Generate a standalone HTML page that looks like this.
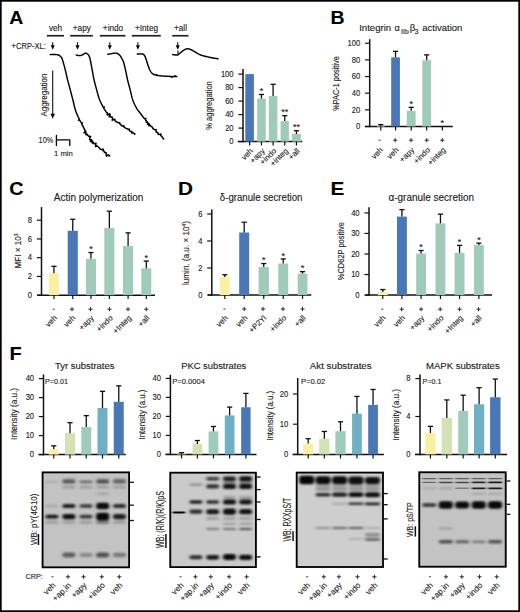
<!DOCTYPE html>
<html><head><meta charset="utf-8"><style>
html,body{margin:0;padding:0;background:#fff;}
body{width:520px;height:612px;overflow:hidden;position:relative;}
svg{position:absolute;left:0;top:0;font-family:"Liberation Sans", sans-serif;}
text{stroke:#1a1a1a;stroke-width:0.12px;}
</style></head><body>
<svg width="520" height="612" viewBox="0 0 520 612">
<defs><filter id="bl" x="-20%" y="-50%" width="140%" height="200%"><feGaussianBlur stdDeviation="1.5 1.0"/></filter><filter id="bls" x="-20%" y="-50%" width="140%" height="200%"><feGaussianBlur stdDeviation="1.1 0.55"/></filter></defs>
<rect x="0" y="0" width="520" height="612" fill="#fff"/>
<text x="0" y="0" font-size="18.5" text-anchor="start" font-weight="bold" fill="#000" transform="translate(9.2 24.2) scale(1.05 1)">A</text>
<text x="55.5" y="31" font-size="8.2" text-anchor="middle" font-weight="normal" fill="#1a1a1a">veh</text>
<rect x="46.90" y="34.90" width="17.10" height="1.70" fill="#222"/>
<line x1="52.70" y1="42.20" x2="52.70" y2="45.80" stroke="#111" stroke-width="1.1"/>
<path d="M50.7,45.3 L54.7,45.3 L52.7,49.8 Z" fill="#000"/>
<text x="81.8" y="31" font-size="8.2" text-anchor="middle" font-weight="normal" fill="#1a1a1a">+apy</text>
<rect x="70.20" y="34.90" width="22.60" height="1.70" fill="#222"/>
<line x1="77.50" y1="42.20" x2="77.50" y2="45.80" stroke="#111" stroke-width="1.1"/>
<path d="M75.5,45.3 L79.5,45.3 L77.5,49.8 Z" fill="#000"/>
<text x="113.0" y="31" font-size="8.2" text-anchor="middle" font-weight="normal" fill="#1a1a1a">+indo</text>
<rect x="99.80" y="34.90" width="25.70" height="1.70" fill="#222"/>
<line x1="109.80" y1="42.20" x2="109.80" y2="45.80" stroke="#111" stroke-width="1.1"/>
<path d="M107.8,45.3 L111.8,45.3 L109.8,49.8 Z" fill="#000"/>
<text x="146.5" y="31" font-size="8.2" text-anchor="middle" font-weight="normal" fill="#1a1a1a">+Integ</text>
<rect x="131.80" y="34.90" width="29.00" height="1.70" fill="#222"/>
<line x1="137.90" y1="42.20" x2="137.90" y2="45.80" stroke="#111" stroke-width="1.1"/>
<path d="M135.9,45.3 L139.9,45.3 L137.9,49.8 Z" fill="#000"/>
<text x="180.5" y="31" font-size="8.2" text-anchor="middle" font-weight="normal" fill="#1a1a1a">+all</text>
<rect x="172.20" y="34.90" width="16.30" height="1.70" fill="#222"/>
<line x1="177.70" y1="42.20" x2="177.70" y2="45.80" stroke="#111" stroke-width="1.1"/>
<path d="M175.7,45.3 L179.7,45.3 L177.7,49.8 Z" fill="#000"/>
<text x="11.6" y="48.5" font-size="8.2" text-anchor="start" font-weight="normal" fill="#1a1a1a" textLength="34.2" lengthAdjust="spacingAndGlyphs">+CRP-XL:</text>
<path d="M50.10,54.60 L50.52,54.60 L51.08,54.59 L51.76,54.59 L52.50,54.58 L53.29,54.57 L54.07,54.57 L54.80,54.57 L55.46,54.58 L56.00,54.60 L56.88,54.65 L57.49,54.71 L57.99,54.81 L58.50,55.00 L59.05,55.29 L59.56,55.65 L60.05,56.06 L60.50,56.50 L60.90,56.86 L61.25,57.19 L61.60,57.67 L62.00,58.50 L62.16,58.92 L62.34,59.40 L62.51,59.93 L62.70,60.51 L62.89,61.12 L63.08,61.76 L63.27,62.41 L63.46,63.07 L63.64,63.73 L63.82,64.37 L64.00,65.00 L64.16,65.56 L64.31,66.13 L64.46,66.69 L64.61,67.26 L64.76,67.83 L64.91,68.41 L65.06,68.99 L65.21,69.57 L65.35,70.17 L65.50,70.77 L65.65,71.38 L65.80,72.00 L65.94,72.58 L66.07,73.16 L66.20,73.74 L66.32,74.32 L66.45,74.91 L66.58,75.51 L66.71,76.12 L66.84,76.73 L66.98,77.36 L67.12,78.00 L67.27,78.65 L67.43,79.32 L67.60,80.00 L67.74,80.54 L67.88,81.08 L68.02,81.65 L68.18,82.22 L68.33,82.79 L68.49,83.38 L68.65,83.98 L68.82,84.57 L68.98,85.18 L69.15,85.78 L69.32,86.39 L69.49,87.00 L69.65,87.60 L69.82,88.21 L69.98,88.81 L70.14,89.41 L70.30,90.00 L70.46,90.59 L70.61,91.18 L70.77,91.76 L70.92,92.35 L71.08,92.94 L71.23,93.53 L71.38,94.12 L71.54,94.71 L71.69,95.29 L71.84,95.88 L71.99,96.47 L72.15,97.06 L72.30,97.65 L72.45,98.24 L72.60,98.82 L72.75,99.41 L72.90,100.00 L73.05,100.59 L73.19,101.19 L73.34,101.79 L73.48,102.40 L73.62,103.00 L73.76,103.61 L73.90,104.22 L74.04,104.82 L74.18,105.43 L74.32,106.02 L74.46,106.62 L74.61,107.21 L74.76,107.78 L74.91,108.35 L75.07,108.92 L75.23,109.46 L75.40,110.00 L75.61,110.64 L75.83,111.27 L76.06,111.88 L76.29,112.49 L76.53,113.09 L76.77,113.67 L77.01,114.25 L77.26,114.82 L77.50,115.37 L77.75,115.92 L77.99,116.45 L78.23,116.98 L78.47,117.49 L78.70,118.00 L78.99,118.62 L79.25,119.23 L78.50,120.32 L79.86,120.32 L80.07,120.89 L80.41,121.38 L80.71,121.89 L81.00,122.40 L81.39,122.86 L82.63,122.88 L81.59,124.11 L82.03,124.57 L82.20,125.17 L82.77,125.58 L82.84,126.23 L83.32,126.68 L83.35,127.34 L83.64,127.88 L84.21,128.28 L84.14,128.99 L84.66,129.40 L84.67,130.07 L84.84,130.72 L85.62,131.04 L83.92,132.74 L86.08,132.27 L85.70,133.24 L85.94,133.84 L85.82,134.66 L87.60,134.32 L87.42,135.15 L87.77,135.65 L88.62,135.86 L88.85,136.44 L90.19,136.23 L90.66,136.59 L89.75,137.95 L89.88,138.60 L89.56,139.65 L90.66,139.61 L91.65,139.71 L90.37,141.54 L92.08,140.84 L92.62,141.18 L91.91,142.68 L93.35,142.24 L93.00,143.47 L94.01,143.42 L94.88,143.51 L96.05,143.26 L95.39,144.83 L96.02,145.10 L95.52,146.56 L97.06,145.86 L97.43,146.38 L98.01,146.65 L98.43,147.10 L98.95,147.42 L99.35,147.88 L99.66,148.50 L100.13,148.95 L100.72,149.29 L101.36,149.61 L102.67,149.15 L103.33,149.22 L102.87,150.77 L103.75,150.70 L104.12,151.32 L104.28,152.25 L104.93,152.57 L105.99,152.39 L106.24,153.23 L106.12,154.52 L106.19,155.53 L106.52,156.15 L108.29,154.85 L108.85,155.03 L109.11,155.50 L109.20,156.07 L109.70,156.00" stroke="#000" stroke-width="1.45" fill="none" stroke-linejoin="round" stroke-linecap="round"/>
<path d="M76.20,55.00 L76.70,55.13 L77.41,55.33 L78.22,55.51 L79.00,55.60 L79.58,55.59 L80.17,55.55 L80.77,55.45 L81.38,55.31 L82.00,55.10 L82.54,54.83 L83.11,54.46 L83.68,54.06 L84.25,53.67 L84.79,53.37 L85.30,53.20 L86.00,53.20 L86.65,53.41 L87.25,53.76 L87.80,54.20 L88.20,54.61 L88.56,55.08 L88.89,55.64 L89.20,56.27 L89.50,57.00 L89.67,57.50 L89.83,58.03 L89.97,58.58 L90.11,59.17 L90.25,59.81 L90.39,60.49 L90.54,61.22 L90.70,62.00 L90.80,62.51 L90.91,63.05 L91.02,63.60 L91.13,64.17 L91.24,64.77 L91.35,65.38 L91.46,66.00 L91.58,66.64 L91.70,67.29 L91.82,67.96 L91.94,68.63 L92.07,69.31 L92.20,70.00 L92.31,70.57 L92.41,71.15 L92.52,71.75 L92.63,72.36 L92.74,72.98 L92.85,73.60 L92.97,74.24 L93.08,74.88 L93.20,75.52 L93.32,76.16 L93.44,76.81 L93.57,77.45 L93.69,78.10 L93.83,78.74 L93.96,79.37 L94.10,80.00 L94.23,80.59 L94.37,81.18 L94.51,81.76 L94.66,82.35 L94.80,82.94 L94.95,83.53 L95.10,84.12 L95.25,84.71 L95.41,85.29 L95.57,85.88 L95.72,86.47 L95.88,87.06 L96.05,87.65 L96.21,88.24 L96.37,88.82 L96.54,89.41 L96.70,90.00 L96.86,90.59 L97.02,91.18 L97.18,91.76 L97.33,92.35 L97.49,92.94 L97.64,93.53 L97.80,94.12 L97.96,94.71 L98.12,95.29 L98.29,95.88 L98.46,96.47 L98.64,97.06 L98.83,97.65 L99.03,98.24 L99.24,98.82 L99.47,99.41 L99.70,100.00 L99.94,100.56 L100.18,101.14 L100.45,101.72 L100.72,102.31 L101.00,102.90 L101.29,103.50 L101.59,104.10 L101.89,104.69 L102.20,105.28 L102.49,105.88 L102.81,106.44 L103.09,107.02 L104.29,107.06 L103.76,108.07 L103.98,108.63 L104.27,109.13 L104.65,109.54 L104.85,110.03 L105.40,110.63 L105.74,111.31 L106.10,111.92 L106.56,112.41 L107.20,112.70 L107.30,113.44 L107.11,114.44 L107.41,114.99 L109.65,113.66 L109.04,115.09 L110.31,114.73 L109.12,116.70 L110.30,116.35 L110.74,116.68 L111.00,117.17 L111.63,117.27 L112.49,117.13 L112.44,118.02 L112.67,118.67 L112.15,120.33 L113.70,119.59 L114.97,119.28 L114.84,120.25 L115.08,120.80 L115.58,121.04 L115.97,121.46 L116.60,121.59 L117.05,122.01 L117.39,122.59 L118.18,122.57 L118.79,122.83 L119.75,122.61 L119.78,123.69 L120.28,124.14 L120.60,124.84 L121.42,124.85 L121.64,125.71 L122.29,125.95 L122.90,126.26 L123.99,125.85 L123.90,127.15 L124.47,127.40 L125.06,127.68 L125.55,128.14 L126.25,128.33 L126.91,128.61 L127.49,129.02 L128.06,129.49 L129.26,128.96 L129.36,130.15 L129.70,130.96 L130.39,131.19 L131.16,131.27 L131.71,131.66 L131.57,133.09 L132.74,132.39 L133.12,132.88 L133.58,133.18 L133.92,133.58 L134.36,133.73 L134.53,134.20 L135.00,134.10" stroke="#000" stroke-width="1.45" fill="none" stroke-linejoin="round" stroke-linecap="round"/>
<path d="M107.90,54.30 L108.30,54.22 L108.85,54.12 L109.49,53.99 L110.20,53.85 L110.94,53.72 L111.65,53.60 L112.30,53.50 L113.01,53.40 L113.73,53.29 L114.43,53.19 L115.12,53.13 L115.78,53.12 L116.40,53.20 L117.10,53.41 L117.76,53.71 L118.39,54.09 L118.97,54.53 L119.50,55.00 L119.90,55.42 L120.25,55.87 L120.57,56.36 L120.87,56.88 L121.18,57.43 L121.50,58.00 L121.79,58.48 L122.07,58.95 L122.36,59.43 L122.64,59.95 L122.93,60.54 L123.21,61.21 L123.50,62.00 L123.65,62.48 L123.81,62.99 L123.96,63.53 L124.11,64.10 L124.26,64.69 L124.42,65.31 L124.57,65.94 L124.72,66.60 L124.88,67.26 L125.03,67.94 L125.19,68.62 L125.34,69.31 L125.50,70.00 L125.62,70.54 L125.74,71.08 L125.86,71.65 L125.98,72.22 L126.10,72.79 L126.21,73.38 L126.33,73.98 L126.45,74.57 L126.57,75.18 L126.69,75.78 L126.82,76.39 L126.94,77.00 L127.07,77.60 L127.20,78.21 L127.33,78.81 L127.46,79.41 L127.60,80.00 L127.74,80.59 L127.88,81.18 L128.03,81.76 L128.18,82.35 L128.33,82.94 L128.48,83.53 L128.63,84.12 L128.79,84.71 L128.95,85.29 L129.10,85.88 L129.26,86.47 L129.42,87.06 L129.58,87.65 L129.73,88.24 L129.89,88.82 L130.05,89.41 L130.20,90.00 L130.35,90.59 L130.50,91.19 L130.64,91.79 L130.79,92.40 L130.93,93.00 L131.07,93.61 L131.22,94.22 L131.36,94.82 L131.50,95.43 L131.65,96.02 L131.80,96.62 L131.95,97.21 L132.11,97.78 L132.28,98.35 L132.44,98.92 L132.62,99.46 L132.80,100.00 L133.03,100.64 L133.26,101.26 L133.49,101.86 L133.74,102.46 L133.98,103.05 L134.24,103.62 L134.49,104.19 L134.76,104.75 L135.03,105.30 L135.31,105.85 L135.59,106.39 L135.89,106.93 L136.19,107.46 L136.50,108.00 L136.82,108.53 L137.17,109.05 L137.50,109.57 L137.83,110.10 L138.22,110.58 L138.56,111.11 L138.94,111.60 L139.35,112.07 L139.75,112.54 L140.12,113.04 L140.53,113.50 L140.87,114.01 L141.32,114.44 L141.52,115.06 L141.97,115.49 L142.29,116.01 L142.56,116.58 L143.17,116.87 L143.51,117.38 L143.83,117.91 L144.22,118.37 L144.73,118.73 L146.00,118.44 L145.36,119.78 L145.70,120.27 L146.20,120.63 L146.49,121.16 L146.17,122.21 L147.49,121.91 L147.84,122.44 L147.96,123.16 L147.47,124.39 L149.15,123.76 L149.30,124.45 L148.63,125.85 L150.34,125.16 L150.50,125.84 L150.93,126.27 L151.55,126.53 L152.07,126.88 L152.37,127.43 L152.80,127.87 L152.90,128.63 L153.34,129.05 L154.06,129.18 L154.66,129.42 L155.02,129.92 L156.17,129.58 L156.02,130.62 L156.29,131.22 L156.22,132.18 L156.91,132.35 L157.64,132.48 L157.89,133.11 L158.44,133.48 L158.26,134.63 L159.53,134.37 L160.98,133.99 L160.56,135.43 L161.14,135.90 L161.75,136.31 L162.18,136.85 L162.39,137.55 L162.77,138.02 L163.31,138.23 L163.25,138.92 L163.80,138.90" stroke="#000" stroke-width="1.45" fill="none" stroke-linejoin="round" stroke-linecap="round"/>
<path d="M137.30,54.00 L137.72,53.99 L138.31,53.96 L139.01,53.93 L139.78,53.91 L140.56,53.89 L141.30,53.89 L141.97,53.93 L142.50,54.00 L143.24,54.22 L143.73,54.53 L144.11,54.95 L144.50,55.50 L144.77,55.92 L145.01,56.38 L145.23,56.89 L145.46,57.49 L145.71,58.18 L146.00,59.00 L146.16,59.48 L146.34,60.01 L146.52,60.59 L146.71,61.21 L146.91,61.85 L147.11,62.51 L147.31,63.17 L147.51,63.83 L147.71,64.47 L147.91,65.08 L148.11,65.67 L148.30,66.20 L148.55,66.86 L148.79,67.50 L149.03,68.11 L149.27,68.69 L149.51,69.25 L149.75,69.78 L149.99,70.28 L150.25,70.75 L150.52,71.19 L150.88,71.81 L151.25,72.35 L151.63,72.82 L151.99,73.29 L152.45,73.68 L153.01,73.98 L153.47,74.26 L153.89,74.56 L154.43,74.61 L154.92,74.89 L155.52,75.16 L156.44,74.49 L157.19,75.48 L157.65,75.53 L158.16,75.55 L158.69,75.60 L159.26,75.65 L159.85,75.77 L160.46,75.81 L161.10,75.87 L161.75,75.95 L162.41,75.99 L163.07,76.10 L163.74,76.15 L164.43,76.04 L165.07,76.31 L165.73,76.28 L166.37,76.35 L167.00,76.31 L167.63,76.31 L168.29,76.37 L168.98,76.32 L169.68,76.43 L170.39,76.44 L171.11,76.38 L171.80,77.28 L172.51,76.45 L173.19,76.53 L173.84,76.55 L174.46,76.52 L175.05,75.65 L175.57,76.57 L176.04,76.51 L176.46,76.50 L176.80,76.50" stroke="#000" stroke-width="1.45" fill="none" stroke-linejoin="round" stroke-linecap="round"/>
<path d="M172.60,54.60 L173.05,54.65 L173.70,54.73 L174.46,54.83 L175.23,54.91 L175.94,54.98 L176.50,55.00 L177.31,54.97 L178.00,54.60 L178.41,54.33 L178.89,53.97 L179.41,53.57 L179.94,53.14 L180.48,52.71 L181.00,52.30 L181.50,51.90 L182.00,51.49 L182.50,51.08 L183.00,50.69 L183.50,50.32 L184.00,50.00 L184.59,49.66 L185.18,49.35 L185.76,49.09 L186.37,48.90 L187.00,48.80 L187.67,48.80 L188.37,48.90 L189.09,49.06 L189.80,49.27 L190.50,49.50 L191.02,49.70 L191.48,49.91 L191.93,50.16 L192.43,50.44 L193.04,50.78 L193.80,51.20 L194.21,51.43 L194.65,51.68 L195.12,51.96 L195.61,52.26 L196.12,52.57 L196.66,52.89 L197.21,53.22 L197.78,53.54 L198.36,53.87 L198.96,54.18 L199.56,54.47 L200.18,54.75 L200.80,55.00 L201.35,55.20 L201.93,55.40 L202.52,55.59 L203.13,55.77 L203.75,55.94 L204.38,56.11 L205.02,56.27 L205.66,56.43 L206.30,56.58 L206.94,56.73 L207.58,56.87 L208.20,57.01 L208.82,57.14 L209.42,57.27 L210.00,57.40 L210.68,57.54 L211.38,57.68 L212.09,57.82 L212.81,57.95 L213.53,58.08 L214.23,58.19 L214.91,58.30 L215.56,58.41 L216.17,58.51 L216.72,58.59 L217.22,58.67 L217.65,58.74 L218.00,58.80" stroke="#000" stroke-width="1.45" fill="none" stroke-linejoin="round" stroke-linecap="round"/>
<line x1="178.00" y1="55.50" x2="178.00" y2="50.50" stroke="#111" stroke-width="1.1"/>
<text x="47.1" y="95.0" font-size="9.6" text-anchor="middle" font-weight="normal" fill="#1a1a1a" transform="rotate(-90 47.1 95.0)" textLength="43.0" lengthAdjust="spacingAndGlyphs">Aggregation</text>
<line x1="52.70" y1="70.50" x2="52.70" y2="114.30" stroke="#111" stroke-width="1.1"/>
<path d="M50.5,113.8 L54.900000000000006,113.8 L52.7,118.8 Z" fill="#000"/>
<text x="53.2" y="143.1" font-size="8.3" text-anchor="end" font-weight="normal" fill="#1a1a1a" textLength="14.6" lengthAdjust="spacingAndGlyphs">10%</text>
<path d="M56.4,135.4 L56.4,145.4 M56.4,139.9 L69.8,139.9 L69.8,145.4" stroke="#000" stroke-width="1.3" fill="none" stroke-linejoin="round" stroke-linecap="round"/>
<text x="63.4" y="155.8" font-size="7.6" text-anchor="middle" font-weight="normal" fill="#1a1a1a" textLength="18.8" lengthAdjust="spacingAndGlyphs">1 min</text>
<line x1="243.00" y1="69.00" x2="243.00" y2="142.35" stroke="#111" stroke-width="1.5"/>
<line x1="237.80" y1="141.60" x2="302.20" y2="141.60" stroke="#111" stroke-width="1.5"/>
<line x1="238.40" y1="141.60" x2="243.00" y2="141.60" stroke="#111" stroke-width="1.2"/>
<text x="0" y="0" font-size="8.2" text-anchor="end" font-weight="normal" fill="#1a1a1a" transform="translate(233.6 144.35) scale(0.93 1)">0</text>
<line x1="238.40" y1="128.10" x2="243.00" y2="128.10" stroke="#111" stroke-width="1.2"/>
<text x="0" y="0" font-size="8.2" text-anchor="end" font-weight="normal" fill="#1a1a1a" transform="translate(233.6 130.85) scale(0.93 1)">20</text>
<line x1="238.40" y1="114.60" x2="243.00" y2="114.60" stroke="#111" stroke-width="1.2"/>
<text x="0" y="0" font-size="8.2" text-anchor="end" font-weight="normal" fill="#1a1a1a" transform="translate(233.6 117.35) scale(0.93 1)">40</text>
<line x1="238.40" y1="101.10" x2="243.00" y2="101.10" stroke="#111" stroke-width="1.2"/>
<text x="0" y="0" font-size="8.2" text-anchor="end" font-weight="normal" fill="#1a1a1a" transform="translate(233.6 103.85) scale(0.93 1)">60</text>
<line x1="238.40" y1="87.60" x2="243.00" y2="87.60" stroke="#111" stroke-width="1.2"/>
<text x="0" y="0" font-size="8.2" text-anchor="end" font-weight="normal" fill="#1a1a1a" transform="translate(233.6 90.35) scale(0.93 1)">80</text>
<line x1="238.40" y1="74.10" x2="243.00" y2="74.10" stroke="#111" stroke-width="1.2"/>
<text x="0" y="0" font-size="8.2" text-anchor="end" font-weight="normal" fill="#1a1a1a" transform="translate(233.6 76.85) scale(0.93 1)">100</text>
<rect x="245.30" y="74.10" width="8.60" height="67.50" fill="#4a77b5"/>
<line x1="249.60" y1="141.60" x2="249.60" y2="145.50" stroke="#111" stroke-width="1.2"/>
<rect x="257.10" y="98.74" width="8.70" height="42.86" fill="#a0cbb9"/>
<line x1="261.45" y1="98.74" x2="261.45" y2="94.48" stroke="#111" stroke-width="1.3"/>
<line x1="258.85" y1="94.48" x2="264.05" y2="94.48" stroke="#111" stroke-width="1.3"/>
<text x="261.45000000000005" y="94.08499999999998" font-size="9" text-anchor="middle" font-weight="normal" fill="#1a1a1a">*</text>
<line x1="261.45" y1="141.60" x2="261.45" y2="145.50" stroke="#111" stroke-width="1.2"/>
<rect x="268.80" y="96.04" width="8.60" height="45.56" fill="#a0cbb9"/>
<line x1="273.10" y1="96.04" x2="273.10" y2="84.29" stroke="#111" stroke-width="1.3"/>
<line x1="270.50" y1="84.29" x2="275.70" y2="84.29" stroke="#111" stroke-width="1.3"/>
<line x1="273.10" y1="141.60" x2="273.10" y2="145.50" stroke="#111" stroke-width="1.2"/>
<rect x="280.60" y="121.08" width="8.30" height="20.52" fill="#a0cbb9"/>
<line x1="284.75" y1="121.08" x2="284.75" y2="115.68" stroke="#111" stroke-width="1.3"/>
<line x1="282.15" y1="115.68" x2="287.35" y2="115.68" stroke="#111" stroke-width="1.3"/>
<text x="284.75" y="115.27999999999999" font-size="9" text-anchor="middle" font-weight="normal" fill="#1a1a1a">**</text>
<line x1="284.75" y1="141.60" x2="284.75" y2="145.50" stroke="#111" stroke-width="1.2"/>
<rect x="292.10" y="133.97" width="8.70" height="7.63" fill="#a0cbb9"/>
<line x1="296.45" y1="133.97" x2="296.45" y2="130.73" stroke="#111" stroke-width="1.3"/>
<line x1="293.85" y1="130.73" x2="299.05" y2="130.73" stroke="#111" stroke-width="1.3"/>
<text x="296.45000000000005" y="130.33249999999998" font-size="9" text-anchor="middle" font-weight="normal" fill="#1a1a1a">**</text>
<line x1="296.45" y1="141.60" x2="296.45" y2="145.50" stroke="#111" stroke-width="1.2"/>
<text x="212.0" y="105.5" font-size="8.8" text-anchor="middle" font-weight="normal" fill="#1a1a1a" transform="rotate(-90 212.0 105.5)" textLength="48.5" lengthAdjust="spacingAndGlyphs">% aggregation</text>
<text x="253.4" y="151.5" font-size="7.9" text-anchor="end" font-weight="normal" fill="#1a1a1a" transform="rotate(-45 253.4 151.5)">veh</text>
<text x="265.25" y="151.5" font-size="7.9" text-anchor="end" font-weight="normal" fill="#1a1a1a" transform="rotate(-45 265.25 151.5)">+apy</text>
<text x="276.9" y="151.5" font-size="7.9" text-anchor="end" font-weight="normal" fill="#1a1a1a" transform="rotate(-45 276.9 151.5)">+indo</text>
<text x="288.55" y="151.5" font-size="7.9" text-anchor="end" font-weight="normal" fill="#1a1a1a" transform="rotate(-45 288.55 151.5)">+integ</text>
<text x="300.25" y="151.5" font-size="7.9" text-anchor="end" font-weight="normal" fill="#1a1a1a" transform="rotate(-45 300.25 151.5)">+all</text>
<text x="0" y="0" font-size="18.8" text-anchor="start" font-weight="bold" fill="#000" transform="translate(330.4 24.3) scale(1.04 1)">B</text>
<text x="359.2" y="31.3" font-size="9.6" text-anchor="start" font-weight="normal" fill="#1a1a1a">Integrin </text>
<text x="394.6" y="31.3" font-size="9.2" text-anchor="start" font-weight="normal" fill="#1a1a1a">&#945;</text>
<text x="401.0" y="34.4" font-size="7.2" text-anchor="start" font-weight="bold" fill="#6a6a6a" textLength="8" lengthAdjust="spacingAndGlyphs">IIb</text>
<text x="409.8" y="31.3" font-size="9.6" text-anchor="start" font-weight="normal" fill="#1a1a1a">&#946;</text>
<text x="414.6" y="34.4" font-size="7" text-anchor="start" font-weight="normal" fill="#1a1a1a">3</text>
<text x="422.3" y="31.3" font-size="9.2" text-anchor="start" font-weight="normal" fill="#1a1a1a" textLength="40" lengthAdjust="spacingAndGlyphs">activation</text>
<line x1="369.70" y1="39.20" x2="369.70" y2="127.25" stroke="#111" stroke-width="1.5"/>
<line x1="364.80" y1="126.50" x2="452.70" y2="126.50" stroke="#111" stroke-width="1.5"/>
<line x1="365.10" y1="126.50" x2="369.70" y2="126.50" stroke="#111" stroke-width="1.2"/>
<text x="0" y="0" font-size="8.2" text-anchor="end" font-weight="normal" fill="#1a1a1a" transform="translate(360.29999999999995 129.25) scale(0.93 1)">0</text>
<line x1="365.10" y1="109.84" x2="369.70" y2="109.84" stroke="#111" stroke-width="1.2"/>
<text x="0" y="0" font-size="8.2" text-anchor="end" font-weight="normal" fill="#1a1a1a" transform="translate(360.29999999999995 112.59) scale(0.93 1)">20</text>
<line x1="365.10" y1="93.18" x2="369.70" y2="93.18" stroke="#111" stroke-width="1.2"/>
<text x="0" y="0" font-size="8.2" text-anchor="end" font-weight="normal" fill="#1a1a1a" transform="translate(360.29999999999995 95.93) scale(0.93 1)">40</text>
<line x1="365.10" y1="76.52" x2="369.70" y2="76.52" stroke="#111" stroke-width="1.2"/>
<text x="0" y="0" font-size="8.2" text-anchor="end" font-weight="normal" fill="#1a1a1a" transform="translate(360.29999999999995 79.27000000000001) scale(0.93 1)">60</text>
<line x1="365.10" y1="59.86" x2="369.70" y2="59.86" stroke="#111" stroke-width="1.2"/>
<text x="0" y="0" font-size="8.2" text-anchor="end" font-weight="normal" fill="#1a1a1a" transform="translate(360.29999999999995 62.61) scale(0.93 1)">80</text>
<line x1="365.10" y1="43.20" x2="369.70" y2="43.20" stroke="#111" stroke-width="1.2"/>
<text x="0" y="0" font-size="8.2" text-anchor="end" font-weight="normal" fill="#1a1a1a" transform="translate(360.29999999999995 45.95) scale(0.93 1)">100</text>
<rect x="376.80" y="126.00" width="7.90" height="0.50" fill="#fbefa2"/>
<line x1="380.75" y1="126.00" x2="380.75" y2="124.58" stroke="#111" stroke-width="1.3"/>
<line x1="378.15" y1="124.58" x2="383.35" y2="124.58" stroke="#111" stroke-width="1.3"/>
<line x1="380.75" y1="126.50" x2="380.75" y2="130.40" stroke="#111" stroke-width="1.2"/>
<rect x="391.20" y="57.36" width="8.70" height="69.14" fill="#4a77b5"/>
<line x1="395.55" y1="57.36" x2="395.55" y2="51.36" stroke="#111" stroke-width="1.3"/>
<line x1="392.95" y1="51.36" x2="398.15" y2="51.36" stroke="#111" stroke-width="1.3"/>
<line x1="395.55" y1="126.50" x2="395.55" y2="130.40" stroke="#111" stroke-width="1.2"/>
<rect x="406.80" y="110.84" width="8.80" height="15.66" fill="#a0cbb9"/>
<line x1="411.20" y1="110.84" x2="411.20" y2="107.34" stroke="#111" stroke-width="1.3"/>
<line x1="408.60" y1="107.34" x2="413.80" y2="107.34" stroke="#111" stroke-width="1.3"/>
<text x="411.20000000000005" y="106.941" font-size="9" text-anchor="middle" font-weight="normal" fill="#1a1a1a">*</text>
<line x1="411.20" y1="126.50" x2="411.20" y2="130.40" stroke="#111" stroke-width="1.2"/>
<rect x="422.30" y="60.28" width="8.80" height="66.22" fill="#a0cbb9"/>
<line x1="426.70" y1="60.28" x2="426.70" y2="54.86" stroke="#111" stroke-width="1.3"/>
<line x1="424.10" y1="54.86" x2="429.30" y2="54.86" stroke="#111" stroke-width="1.3"/>
<line x1="426.70" y1="126.50" x2="426.70" y2="130.40" stroke="#111" stroke-width="1.2"/>
<text x="442.35" y="126.1" font-size="9" text-anchor="middle" font-weight="normal" fill="#1a1a1a">*</text>
<line x1="442.35" y1="126.50" x2="442.35" y2="130.40" stroke="#111" stroke-width="1.2"/>
<text x="339.2" y="83.5" font-size="9.0" text-anchor="middle" font-weight="normal" fill="#1a1a1a" transform="rotate(-90 339.2 83.5)" textLength="54.5" lengthAdjust="spacingAndGlyphs">%PAC-1 positive</text>
<line x1="378.50" y1="140.20" x2="380.70" y2="140.20" stroke="#333" stroke-width="0.9"/>
<line x1="393.10" y1="140.20" x2="397.30" y2="140.20" stroke="#222" stroke-width="0.95"/>
<line x1="395.20" y1="138.10" x2="395.20" y2="142.30" stroke="#222" stroke-width="0.95"/>
<line x1="408.90" y1="140.20" x2="413.10" y2="140.20" stroke="#222" stroke-width="0.95"/>
<line x1="411.00" y1="138.10" x2="411.00" y2="142.30" stroke="#222" stroke-width="0.95"/>
<line x1="424.60" y1="140.20" x2="428.80" y2="140.20" stroke="#222" stroke-width="0.95"/>
<line x1="426.70" y1="138.10" x2="426.70" y2="142.30" stroke="#222" stroke-width="0.95"/>
<line x1="440.20" y1="140.20" x2="444.40" y2="140.20" stroke="#222" stroke-width="0.95"/>
<line x1="442.30" y1="138.10" x2="442.30" y2="142.30" stroke="#222" stroke-width="0.95"/>
<text x="383.4" y="150.5" font-size="7.9" text-anchor="end" font-weight="normal" fill="#1a1a1a" transform="rotate(-45 383.4 150.5)">veh</text>
<text x="399.0" y="150.5" font-size="7.9" text-anchor="end" font-weight="normal" fill="#1a1a1a" transform="rotate(-45 399.0 150.5)">veh</text>
<text x="414.8" y="150.5" font-size="7.9" text-anchor="end" font-weight="normal" fill="#1a1a1a" transform="rotate(-45 414.8 150.5)">+apy</text>
<text x="430.5" y="150.5" font-size="7.9" text-anchor="end" font-weight="normal" fill="#1a1a1a" transform="rotate(-45 430.5 150.5)">+indo</text>
<text x="446.1" y="150.5" font-size="7.9" text-anchor="end" font-weight="normal" fill="#1a1a1a" transform="rotate(-45 446.1 150.5)">+integ</text>
<text x="0" y="0" font-size="19" text-anchor="start" font-weight="bold" fill="#000" transform="translate(9.3 194.8) scale(1.04 1)">C</text>
<text x="53.8" y="201.0" font-size="10" text-anchor="start" font-weight="normal" fill="#1a1a1a" textLength="89.5" lengthAdjust="spacingAndGlyphs">Actin polymerization</text>
<line x1="41.50" y1="207.10" x2="41.50" y2="295.95" stroke="#111" stroke-width="1.5"/>
<line x1="37.50" y1="295.20" x2="155.00" y2="295.20" stroke="#111" stroke-width="1.5"/>
<line x1="36.90" y1="295.20" x2="41.50" y2="295.20" stroke="#111" stroke-width="1.2"/>
<text x="0" y="0" font-size="8.2" text-anchor="end" font-weight="normal" fill="#1a1a1a" transform="translate(32.1 297.95) scale(0.93 1)">0</text>
<line x1="36.90" y1="276.45" x2="41.50" y2="276.45" stroke="#111" stroke-width="1.2"/>
<text x="0" y="0" font-size="8.2" text-anchor="end" font-weight="normal" fill="#1a1a1a" transform="translate(32.1 279.2) scale(0.93 1)">2</text>
<line x1="36.90" y1="257.70" x2="41.50" y2="257.70" stroke="#111" stroke-width="1.2"/>
<text x="0" y="0" font-size="8.2" text-anchor="end" font-weight="normal" fill="#1a1a1a" transform="translate(32.1 260.45) scale(0.93 1)">4</text>
<line x1="36.90" y1="238.95" x2="41.50" y2="238.95" stroke="#111" stroke-width="1.2"/>
<text x="0" y="0" font-size="8.2" text-anchor="end" font-weight="normal" fill="#1a1a1a" transform="translate(32.1 241.7) scale(0.93 1)">6</text>
<line x1="36.90" y1="220.20" x2="41.50" y2="220.20" stroke="#111" stroke-width="1.2"/>
<text x="0" y="0" font-size="8.2" text-anchor="end" font-weight="normal" fill="#1a1a1a" transform="translate(32.1 222.95) scale(0.93 1)">8</text>
<rect x="48.90" y="273.26" width="10.10" height="21.94" fill="#fbefa2"/>
<line x1="53.95" y1="273.26" x2="53.95" y2="266.32" stroke="#111" stroke-width="1.3"/>
<line x1="51.35" y1="266.32" x2="56.55" y2="266.32" stroke="#111" stroke-width="1.3"/>
<line x1="53.95" y1="295.20" x2="53.95" y2="299.10" stroke="#111" stroke-width="1.2"/>
<rect x="67.70" y="230.79" width="10.10" height="64.41" fill="#4a77b5"/>
<line x1="72.75" y1="230.79" x2="72.75" y2="219.26" stroke="#111" stroke-width="1.3"/>
<line x1="70.15" y1="219.26" x2="75.35" y2="219.26" stroke="#111" stroke-width="1.3"/>
<line x1="72.75" y1="295.20" x2="72.75" y2="299.10" stroke="#111" stroke-width="1.2"/>
<rect x="85.90" y="258.82" width="10.10" height="36.38" fill="#a0cbb9"/>
<line x1="90.95" y1="258.82" x2="90.95" y2="252.54" stroke="#111" stroke-width="1.3"/>
<line x1="88.35" y1="252.54" x2="93.55" y2="252.54" stroke="#111" stroke-width="1.3"/>
<text x="90.95" y="252.14374999999998" font-size="9" text-anchor="middle" font-weight="normal" fill="#1a1a1a">*</text>
<line x1="90.95" y1="295.20" x2="90.95" y2="299.10" stroke="#111" stroke-width="1.2"/>
<rect x="104.30" y="227.98" width="10.10" height="67.22" fill="#a0cbb9"/>
<line x1="109.35" y1="227.98" x2="109.35" y2="211.20" stroke="#111" stroke-width="1.3"/>
<line x1="106.75" y1="211.20" x2="111.95" y2="211.20" stroke="#111" stroke-width="1.3"/>
<line x1="109.35" y1="295.20" x2="109.35" y2="299.10" stroke="#111" stroke-width="1.2"/>
<rect x="123.00" y="246.07" width="10.20" height="49.12" fill="#a0cbb9"/>
<line x1="128.10" y1="246.07" x2="128.10" y2="232.86" stroke="#111" stroke-width="1.3"/>
<line x1="125.50" y1="232.86" x2="130.70" y2="232.86" stroke="#111" stroke-width="1.3"/>
<line x1="128.10" y1="295.20" x2="128.10" y2="299.10" stroke="#111" stroke-width="1.2"/>
<rect x="141.30" y="268.39" width="10.00" height="26.81" fill="#a0cbb9"/>
<line x1="146.30" y1="268.39" x2="146.30" y2="261.07" stroke="#111" stroke-width="1.3"/>
<line x1="143.70" y1="261.07" x2="148.90" y2="261.07" stroke="#111" stroke-width="1.3"/>
<text x="146.3" y="260.675" font-size="9" text-anchor="middle" font-weight="normal" fill="#1a1a1a">*</text>
<line x1="146.30" y1="295.20" x2="146.30" y2="299.10" stroke="#111" stroke-width="1.2"/>
<text font-size="9.4" fill="#1a1a1a" text-anchor="middle" transform="rotate(-90 20.8 250.9)" x="20.8" y="250.9" textLength="35" lengthAdjust="spacingAndGlyphs">MFI &#215; 10<tspan font-size="6" dy="-3">3</tspan></text>
<line x1="52.65" y1="309.20" x2="54.85" y2="309.20" stroke="#333" stroke-width="0.9"/>
<line x1="69.90" y1="309.20" x2="74.10" y2="309.20" stroke="#222" stroke-width="0.95"/>
<line x1="72.00" y1="307.10" x2="72.00" y2="311.30" stroke="#222" stroke-width="0.95"/>
<line x1="88.40" y1="309.20" x2="92.60" y2="309.20" stroke="#222" stroke-width="0.95"/>
<line x1="90.50" y1="307.10" x2="90.50" y2="311.30" stroke="#222" stroke-width="0.95"/>
<line x1="107.40" y1="309.20" x2="111.60" y2="309.20" stroke="#222" stroke-width="0.95"/>
<line x1="109.50" y1="307.10" x2="109.50" y2="311.30" stroke="#222" stroke-width="0.95"/>
<line x1="125.90" y1="309.20" x2="130.10" y2="309.20" stroke="#222" stroke-width="0.95"/>
<line x1="128.00" y1="307.10" x2="128.00" y2="311.30" stroke="#222" stroke-width="0.95"/>
<line x1="144.15" y1="309.20" x2="148.35" y2="309.20" stroke="#222" stroke-width="0.95"/>
<line x1="146.25" y1="307.10" x2="146.25" y2="311.30" stroke="#222" stroke-width="0.95"/>
<text x="57.55" y="318.5" font-size="7.9" text-anchor="end" font-weight="normal" fill="#1a1a1a" transform="rotate(-45 57.55 318.5)">veh</text>
<text x="75.8" y="318.5" font-size="7.9" text-anchor="end" font-weight="normal" fill="#1a1a1a" transform="rotate(-45 75.8 318.5)">veh</text>
<text x="94.3" y="318.5" font-size="7.9" text-anchor="end" font-weight="normal" fill="#1a1a1a" transform="rotate(-45 94.3 318.5)">+apy</text>
<text x="113.3" y="318.5" font-size="7.9" text-anchor="end" font-weight="normal" fill="#1a1a1a" transform="rotate(-45 113.3 318.5)">+indo</text>
<text x="131.8" y="318.5" font-size="7.9" text-anchor="end" font-weight="normal" fill="#1a1a1a" transform="rotate(-45 131.8 318.5)">+Integ</text>
<text x="150.05" y="318.5" font-size="7.9" text-anchor="end" font-weight="normal" fill="#1a1a1a" transform="rotate(-45 150.05 318.5)">+all</text>
<text x="0" y="0" font-size="18.8" text-anchor="start" font-weight="bold" fill="#000" transform="translate(177.9 195.1) scale(1.1 1)">D</text>
<text x="219.8" y="200.9" font-size="10" text-anchor="start" font-weight="normal" fill="#1a1a1a" textLength="82.7" lengthAdjust="spacingAndGlyphs">&#948;-granule secretion</text>
<line x1="211.80" y1="209.50" x2="211.80" y2="295.75" stroke="#111" stroke-width="1.5"/>
<line x1="208.00" y1="295.00" x2="311.25" y2="295.00" stroke="#111" stroke-width="1.5"/>
<line x1="207.20" y1="295.00" x2="211.80" y2="295.00" stroke="#111" stroke-width="1.2"/>
<text x="0" y="0" font-size="8.2" text-anchor="end" font-weight="normal" fill="#1a1a1a" transform="translate(202.4 297.75) scale(0.93 1)">0</text>
<line x1="207.20" y1="268.00" x2="211.80" y2="268.00" stroke="#111" stroke-width="1.2"/>
<text x="0" y="0" font-size="8.2" text-anchor="end" font-weight="normal" fill="#1a1a1a" transform="translate(202.4 270.75) scale(0.93 1)">2</text>
<line x1="207.20" y1="241.00" x2="211.80" y2="241.00" stroke="#111" stroke-width="1.2"/>
<text x="0" y="0" font-size="8.2" text-anchor="end" font-weight="normal" fill="#1a1a1a" transform="translate(202.4 243.75) scale(0.93 1)">4</text>
<line x1="207.20" y1="214.00" x2="211.80" y2="214.00" stroke="#111" stroke-width="1.2"/>
<text x="0" y="0" font-size="8.2" text-anchor="end" font-weight="normal" fill="#1a1a1a" transform="translate(202.4 216.75) scale(0.93 1)">6</text>
<rect x="219.80" y="276.91" width="10.00" height="18.09" fill="#fbefa2"/>
<line x1="224.80" y1="276.91" x2="224.80" y2="274.75" stroke="#111" stroke-width="1.3"/>
<line x1="222.20" y1="274.75" x2="227.40" y2="274.75" stroke="#111" stroke-width="1.3"/>
<line x1="224.80" y1="295.00" x2="224.80" y2="298.90" stroke="#111" stroke-width="1.2"/>
<rect x="239.20" y="232.50" width="10.00" height="62.50" fill="#4a77b5"/>
<line x1="244.20" y1="232.50" x2="244.20" y2="222.24" stroke="#111" stroke-width="1.3"/>
<line x1="241.60" y1="222.24" x2="246.80" y2="222.24" stroke="#111" stroke-width="1.3"/>
<line x1="244.20" y1="295.00" x2="244.20" y2="298.90" stroke="#111" stroke-width="1.2"/>
<rect x="258.60" y="267.06" width="10.30" height="27.94" fill="#a0cbb9"/>
<line x1="263.75" y1="267.06" x2="263.75" y2="263.55" stroke="#111" stroke-width="1.3"/>
<line x1="261.15" y1="263.55" x2="266.35" y2="263.55" stroke="#111" stroke-width="1.3"/>
<text x="263.75" y="263.14500000000004" font-size="9" text-anchor="middle" font-weight="normal" fill="#1a1a1a">*</text>
<line x1="263.75" y1="295.00" x2="263.75" y2="298.90" stroke="#111" stroke-width="1.2"/>
<rect x="278.30" y="263.55" width="9.90" height="31.46" fill="#a0cbb9"/>
<line x1="283.25" y1="263.55" x2="283.25" y2="258.95" stroke="#111" stroke-width="1.3"/>
<line x1="280.65" y1="258.95" x2="285.85" y2="258.95" stroke="#111" stroke-width="1.3"/>
<text x="283.25" y="258.555" font-size="9" text-anchor="middle" font-weight="normal" fill="#1a1a1a">*</text>
<line x1="283.25" y1="295.00" x2="283.25" y2="298.90" stroke="#111" stroke-width="1.2"/>
<rect x="297.70" y="273.67" width="9.70" height="21.33" fill="#a0cbb9"/>
<line x1="302.55" y1="273.67" x2="302.55" y2="271.64" stroke="#111" stroke-width="1.3"/>
<line x1="299.95" y1="271.64" x2="305.15" y2="271.64" stroke="#111" stroke-width="1.3"/>
<text x="302.54999999999995" y="271.245" font-size="9" text-anchor="middle" font-weight="normal" fill="#1a1a1a">*</text>
<line x1="302.55" y1="295.00" x2="302.55" y2="298.90" stroke="#111" stroke-width="1.2"/>
<text font-size="9.4" fill="#1a1a1a" text-anchor="middle" transform="rotate(-90 189.0 253)" x="189.0" y="253" textLength="64" lengthAdjust="spacingAndGlyphs">lumin. (a.u. &#215; 10<tspan font-size="6" dy="-3">4</tspan><tspan dy="3">)</tspan></text>
<line x1="223.40" y1="309.00" x2="225.60" y2="309.00" stroke="#333" stroke-width="0.9"/>
<line x1="242.15" y1="309.00" x2="246.35" y2="309.00" stroke="#222" stroke-width="0.95"/>
<line x1="244.25" y1="306.90" x2="244.25" y2="311.10" stroke="#222" stroke-width="0.95"/>
<line x1="260.90" y1="309.00" x2="265.10" y2="309.00" stroke="#222" stroke-width="0.95"/>
<line x1="263.00" y1="306.90" x2="263.00" y2="311.10" stroke="#222" stroke-width="0.95"/>
<line x1="280.90" y1="309.00" x2="285.10" y2="309.00" stroke="#222" stroke-width="0.95"/>
<line x1="283.00" y1="306.90" x2="283.00" y2="311.10" stroke="#222" stroke-width="0.95"/>
<line x1="300.40" y1="309.00" x2="304.60" y2="309.00" stroke="#222" stroke-width="0.95"/>
<line x1="302.50" y1="306.90" x2="302.50" y2="311.10" stroke="#222" stroke-width="0.95"/>
<text x="228.3" y="318.5" font-size="7.9" text-anchor="end" font-weight="normal" fill="#1a1a1a" transform="rotate(-45 228.3 318.5)">veh</text>
<text x="248.05" y="318.5" font-size="7.9" text-anchor="end" font-weight="normal" fill="#1a1a1a" transform="rotate(-45 248.05 318.5)">veh</text>
<text x="266.8" y="318.5" font-size="7.9" text-anchor="end" font-weight="normal" fill="#1a1a1a" transform="rotate(-45 266.8 318.5)">+P2Yi</text>
<text x="286.8" y="318.5" font-size="7.9" text-anchor="end" font-weight="normal" fill="#1a1a1a" transform="rotate(-45 286.8 318.5)">+indo</text>
<text x="306.3" y="318.5" font-size="7.9" text-anchor="end" font-weight="normal" fill="#1a1a1a" transform="rotate(-45 306.3 318.5)">+all</text>
<text x="0" y="0" font-size="18.5" text-anchor="start" font-weight="bold" fill="#000" transform="translate(330.6 195.1) scale(1.12 1)">E</text>
<text x="388.5" y="201.2" font-size="10" text-anchor="start" font-weight="normal" fill="#1a1a1a" textLength="85.5" lengthAdjust="spacingAndGlyphs">&#945;-granule secretion</text>
<line x1="369.00" y1="207.30" x2="369.00" y2="295.85" stroke="#111" stroke-width="1.5"/>
<line x1="365.40" y1="295.10" x2="492.00" y2="295.10" stroke="#111" stroke-width="1.5"/>
<line x1="364.40" y1="295.10" x2="369.00" y2="295.10" stroke="#111" stroke-width="1.2"/>
<text x="0" y="0" font-size="8.2" text-anchor="end" font-weight="normal" fill="#1a1a1a" transform="translate(359.59999999999997 297.85) scale(0.93 1)">0</text>
<line x1="364.40" y1="274.55" x2="369.00" y2="274.55" stroke="#111" stroke-width="1.2"/>
<text x="0" y="0" font-size="8.2" text-anchor="end" font-weight="normal" fill="#1a1a1a" transform="translate(359.59999999999997 277.3) scale(0.93 1)">10</text>
<line x1="364.40" y1="254.00" x2="369.00" y2="254.00" stroke="#111" stroke-width="1.2"/>
<text x="0" y="0" font-size="8.2" text-anchor="end" font-weight="normal" fill="#1a1a1a" transform="translate(359.59999999999997 256.75) scale(0.93 1)">20</text>
<line x1="364.40" y1="233.45" x2="369.00" y2="233.45" stroke="#111" stroke-width="1.2"/>
<text x="0" y="0" font-size="8.2" text-anchor="end" font-weight="normal" fill="#1a1a1a" transform="translate(359.59999999999997 236.20000000000002) scale(0.93 1)">30</text>
<line x1="364.40" y1="212.90" x2="369.00" y2="212.90" stroke="#111" stroke-width="1.2"/>
<text x="0" y="0" font-size="8.2" text-anchor="end" font-weight="normal" fill="#1a1a1a" transform="translate(359.59999999999997 215.65000000000003) scale(0.93 1)">40</text>
<rect x="377.70" y="292.02" width="10.10" height="3.08" fill="#fbefa2"/>
<line x1="382.75" y1="292.02" x2="382.75" y2="289.55" stroke="#111" stroke-width="1.3"/>
<line x1="380.15" y1="289.55" x2="385.35" y2="289.55" stroke="#111" stroke-width="1.3"/>
<line x1="382.75" y1="295.10" x2="382.75" y2="299.00" stroke="#111" stroke-width="1.2"/>
<rect x="397.00" y="216.60" width="9.90" height="78.50" fill="#4a77b5"/>
<line x1="401.95" y1="216.60" x2="401.95" y2="209.61" stroke="#111" stroke-width="1.3"/>
<line x1="399.35" y1="209.61" x2="404.55" y2="209.61" stroke="#111" stroke-width="1.3"/>
<line x1="401.95" y1="295.10" x2="401.95" y2="299.00" stroke="#111" stroke-width="1.2"/>
<rect x="416.20" y="253.59" width="9.80" height="41.51" fill="#a0cbb9"/>
<line x1="421.10" y1="253.59" x2="421.10" y2="250.51" stroke="#111" stroke-width="1.3"/>
<line x1="418.50" y1="250.51" x2="423.70" y2="250.51" stroke="#111" stroke-width="1.3"/>
<text x="421.1" y="250.1065" font-size="9" text-anchor="middle" font-weight="normal" fill="#1a1a1a">*</text>
<line x1="421.10" y1="295.10" x2="421.10" y2="299.00" stroke="#111" stroke-width="1.2"/>
<rect x="435.50" y="223.38" width="9.90" height="71.72" fill="#a0cbb9"/>
<line x1="440.45" y1="223.38" x2="440.45" y2="214.13" stroke="#111" stroke-width="1.3"/>
<line x1="437.85" y1="214.13" x2="443.05" y2="214.13" stroke="#111" stroke-width="1.3"/>
<line x1="440.45" y1="295.10" x2="440.45" y2="299.00" stroke="#111" stroke-width="1.2"/>
<rect x="454.60" y="252.97" width="9.90" height="42.13" fill="#a0cbb9"/>
<line x1="459.55" y1="252.97" x2="459.55" y2="245.37" stroke="#111" stroke-width="1.3"/>
<line x1="456.95" y1="245.37" x2="462.15" y2="245.37" stroke="#111" stroke-width="1.3"/>
<text x="459.55" y="244.96900000000002" font-size="9" text-anchor="middle" font-weight="normal" fill="#1a1a1a">*</text>
<line x1="459.55" y1="295.10" x2="459.55" y2="299.00" stroke="#111" stroke-width="1.2"/>
<rect x="474.00" y="244.96" width="9.80" height="50.14" fill="#a0cbb9"/>
<line x1="478.90" y1="244.96" x2="478.90" y2="243.11" stroke="#111" stroke-width="1.3"/>
<line x1="476.30" y1="243.11" x2="481.50" y2="243.11" stroke="#111" stroke-width="1.3"/>
<text x="478.9" y="242.70850000000002" font-size="9" text-anchor="middle" font-weight="normal" fill="#1a1a1a">*</text>
<line x1="478.90" y1="295.10" x2="478.90" y2="299.00" stroke="#111" stroke-width="1.2"/>
<text x="344.3" y="251.2" font-size="9.4" text-anchor="middle" font-weight="normal" fill="#1a1a1a" transform="rotate(-90 344.3 251.2)" textLength="58" lengthAdjust="spacingAndGlyphs">%CD62P positive</text>
<line x1="381.20" y1="309.20" x2="383.40" y2="309.20" stroke="#333" stroke-width="0.9"/>
<line x1="399.60" y1="309.20" x2="403.80" y2="309.20" stroke="#222" stroke-width="0.95"/>
<line x1="401.70" y1="307.10" x2="401.70" y2="311.30" stroke="#222" stroke-width="0.95"/>
<line x1="419.00" y1="309.20" x2="423.20" y2="309.20" stroke="#222" stroke-width="0.95"/>
<line x1="421.10" y1="307.10" x2="421.10" y2="311.30" stroke="#222" stroke-width="0.95"/>
<line x1="438.10" y1="309.20" x2="442.30" y2="309.20" stroke="#222" stroke-width="0.95"/>
<line x1="440.20" y1="307.10" x2="440.20" y2="311.30" stroke="#222" stroke-width="0.95"/>
<line x1="457.50" y1="309.20" x2="461.70" y2="309.20" stroke="#222" stroke-width="0.95"/>
<line x1="459.60" y1="307.10" x2="459.60" y2="311.30" stroke="#222" stroke-width="0.95"/>
<line x1="476.40" y1="309.20" x2="480.60" y2="309.20" stroke="#222" stroke-width="0.95"/>
<line x1="478.50" y1="307.10" x2="478.50" y2="311.30" stroke="#222" stroke-width="0.95"/>
<text x="386.1" y="318.5" font-size="7.9" text-anchor="end" font-weight="normal" fill="#1a1a1a" transform="rotate(-45 386.1 318.5)">veh</text>
<text x="405.5" y="318.5" font-size="7.9" text-anchor="end" font-weight="normal" fill="#1a1a1a" transform="rotate(-45 405.5 318.5)">veh</text>
<text x="424.9" y="318.5" font-size="7.9" text-anchor="end" font-weight="normal" fill="#1a1a1a" transform="rotate(-45 424.9 318.5)">+apy</text>
<text x="444.0" y="318.5" font-size="7.9" text-anchor="end" font-weight="normal" fill="#1a1a1a" transform="rotate(-45 444.0 318.5)">+indo</text>
<text x="463.4" y="318.5" font-size="7.9" text-anchor="end" font-weight="normal" fill="#1a1a1a" transform="rotate(-45 463.4 318.5)">+Integ</text>
<text x="482.3" y="318.5" font-size="7.9" text-anchor="end" font-weight="normal" fill="#1a1a1a" transform="rotate(-45 482.3 318.5)">+all</text>
<text x="0" y="0" font-size="18.5" text-anchor="start" font-weight="bold" fill="#000" transform="translate(9.6 359.6) scale(1.08 1)">F</text>
<text x="55.0" y="368.7" font-size="9.6" text-anchor="start" font-weight="normal" fill="#1a1a1a" textLength="59.5" lengthAdjust="spacingAndGlyphs">Tyr substrates</text>
<line x1="43.50" y1="374.50" x2="43.50" y2="455.35" stroke="#111" stroke-width="1.5"/>
<line x1="38.50" y1="454.60" x2="125.75" y2="454.60" stroke="#111" stroke-width="1.5"/>
<line x1="38.90" y1="454.60" x2="43.50" y2="454.60" stroke="#111" stroke-width="1.2"/>
<text x="0" y="0" font-size="8.2" text-anchor="end" font-weight="normal" fill="#1a1a1a" transform="translate(34.1 457.35) scale(0.93 1)">0</text>
<line x1="38.90" y1="435.60" x2="43.50" y2="435.60" stroke="#111" stroke-width="1.2"/>
<text x="0" y="0" font-size="8.2" text-anchor="end" font-weight="normal" fill="#1a1a1a" transform="translate(34.1 438.35) scale(0.93 1)">10</text>
<line x1="38.90" y1="416.60" x2="43.50" y2="416.60" stroke="#111" stroke-width="1.2"/>
<text x="0" y="0" font-size="8.2" text-anchor="end" font-weight="normal" fill="#1a1a1a" transform="translate(34.1 419.35) scale(0.93 1)">20</text>
<line x1="38.90" y1="397.60" x2="43.50" y2="397.60" stroke="#111" stroke-width="1.2"/>
<text x="0" y="0" font-size="8.2" text-anchor="end" font-weight="normal" fill="#1a1a1a" transform="translate(34.1 400.35) scale(0.93 1)">30</text>
<line x1="38.90" y1="378.60" x2="43.50" y2="378.60" stroke="#111" stroke-width="1.2"/>
<text x="0" y="0" font-size="8.2" text-anchor="end" font-weight="normal" fill="#1a1a1a" transform="translate(34.1 381.35) scale(0.93 1)">40</text>
<rect x="48.75" y="449.36" width="10.00" height="5.24" fill="#fbefa2"/>
<line x1="53.75" y1="449.36" x2="53.75" y2="445.86" stroke="#111" stroke-width="1.3"/>
<line x1="51.15" y1="445.86" x2="56.35" y2="445.86" stroke="#111" stroke-width="1.3"/>
<line x1="53.75" y1="454.60" x2="53.75" y2="458.60" stroke="#111" stroke-width="1.2"/>
<rect x="65.00" y="433.13" width="10.00" height="21.47" fill="#d4e2b3"/>
<line x1="70.00" y1="433.13" x2="70.00" y2="422.68" stroke="#111" stroke-width="1.3"/>
<line x1="67.40" y1="422.68" x2="72.60" y2="422.68" stroke="#111" stroke-width="1.3"/>
<line x1="70.00" y1="454.60" x2="70.00" y2="458.60" stroke="#111" stroke-width="1.2"/>
<rect x="81.25" y="427.05" width="10.00" height="27.55" fill="#a0cbb9"/>
<line x1="86.25" y1="427.05" x2="86.25" y2="415.65" stroke="#111" stroke-width="1.3"/>
<line x1="83.65" y1="415.65" x2="88.85" y2="415.65" stroke="#111" stroke-width="1.3"/>
<line x1="86.25" y1="454.60" x2="86.25" y2="458.60" stroke="#111" stroke-width="1.2"/>
<rect x="97.50" y="408.05" width="10.00" height="46.55" fill="#6fb0c4"/>
<line x1="102.50" y1="408.05" x2="102.50" y2="391.33" stroke="#111" stroke-width="1.3"/>
<line x1="99.90" y1="391.33" x2="105.10" y2="391.33" stroke="#111" stroke-width="1.3"/>
<line x1="102.50" y1="454.60" x2="102.50" y2="458.60" stroke="#111" stroke-width="1.2"/>
<rect x="113.75" y="401.78" width="10.00" height="52.82" fill="#4a77b5"/>
<line x1="118.75" y1="401.78" x2="118.75" y2="385.82" stroke="#111" stroke-width="1.3"/>
<line x1="116.15" y1="385.82" x2="121.35" y2="385.82" stroke="#111" stroke-width="1.3"/>
<line x1="118.75" y1="454.60" x2="118.75" y2="458.60" stroke="#111" stroke-width="1.2"/>
<text x="45.0" y="384.0" font-size="7.8" text-anchor="start" font-weight="normal" fill="#1a1a1a" textLength="23" lengthAdjust="spacingAndGlyphs">P=0.01</text>
<text x="17.3" y="413.9" font-size="9.0" text-anchor="middle" font-weight="normal" fill="#1a1a1a" transform="rotate(-90 17.3 413.9)" textLength="52" lengthAdjust="spacingAndGlyphs">Intensity (a.u.)</text>
<text x="181.2" y="368.7" font-size="9.6" text-anchor="start" font-weight="normal" fill="#1a1a1a" textLength="65.1" lengthAdjust="spacingAndGlyphs">PKC substrates</text>
<line x1="170.40" y1="374.80" x2="170.40" y2="455.15" stroke="#111" stroke-width="1.5"/>
<line x1="165.40" y1="454.40" x2="256.50" y2="454.40" stroke="#111" stroke-width="1.5"/>
<line x1="165.80" y1="454.40" x2="170.40" y2="454.40" stroke="#111" stroke-width="1.2"/>
<text x="0" y="0" font-size="8.2" text-anchor="end" font-weight="normal" fill="#1a1a1a" transform="translate(161.0 457.15) scale(0.93 1)">0</text>
<line x1="165.80" y1="435.40" x2="170.40" y2="435.40" stroke="#111" stroke-width="1.2"/>
<text x="0" y="0" font-size="8.2" text-anchor="end" font-weight="normal" fill="#1a1a1a" transform="translate(161.0 438.15) scale(0.93 1)">10</text>
<line x1="165.80" y1="416.40" x2="170.40" y2="416.40" stroke="#111" stroke-width="1.2"/>
<text x="0" y="0" font-size="8.2" text-anchor="end" font-weight="normal" fill="#1a1a1a" transform="translate(161.0 419.15) scale(0.93 1)">20</text>
<line x1="165.80" y1="397.40" x2="170.40" y2="397.40" stroke="#111" stroke-width="1.2"/>
<text x="0" y="0" font-size="8.2" text-anchor="end" font-weight="normal" fill="#1a1a1a" transform="translate(161.0 400.15) scale(0.93 1)">30</text>
<line x1="165.80" y1="378.40" x2="170.40" y2="378.40" stroke="#111" stroke-width="1.2"/>
<text x="0" y="0" font-size="8.2" text-anchor="end" font-weight="normal" fill="#1a1a1a" transform="translate(161.0 381.15) scale(0.93 1)">40</text>
<rect x="177.00" y="453.83" width="9.00" height="0.57" fill="#fbefa2"/>
<line x1="181.50" y1="453.83" x2="181.50" y2="452.69" stroke="#111" stroke-width="1.3"/>
<line x1="178.90" y1="452.69" x2="184.10" y2="452.69" stroke="#111" stroke-width="1.3"/>
<line x1="181.50" y1="454.40" x2="181.50" y2="458.40" stroke="#111" stroke-width="1.2"/>
<rect x="192.50" y="443.95" width="9.70" height="10.45" fill="#d4e2b3"/>
<line x1="197.35" y1="443.95" x2="197.35" y2="440.53" stroke="#111" stroke-width="1.3"/>
<line x1="194.75" y1="440.53" x2="199.95" y2="440.53" stroke="#111" stroke-width="1.3"/>
<line x1="197.35" y1="454.40" x2="197.35" y2="458.40" stroke="#111" stroke-width="1.2"/>
<rect x="208.60" y="431.41" width="9.70" height="22.99" fill="#a0cbb9"/>
<line x1="213.45" y1="431.41" x2="213.45" y2="426.47" stroke="#111" stroke-width="1.3"/>
<line x1="210.85" y1="426.47" x2="216.05" y2="426.47" stroke="#111" stroke-width="1.3"/>
<line x1="213.45" y1="454.40" x2="213.45" y2="458.40" stroke="#111" stroke-width="1.2"/>
<rect x="224.80" y="415.45" width="9.70" height="38.95" fill="#6fb0c4"/>
<line x1="229.65" y1="415.45" x2="229.65" y2="407.09" stroke="#111" stroke-width="1.3"/>
<line x1="227.05" y1="407.09" x2="232.25" y2="407.09" stroke="#111" stroke-width="1.3"/>
<line x1="229.65" y1="454.40" x2="229.65" y2="458.40" stroke="#111" stroke-width="1.2"/>
<rect x="241.20" y="407.28" width="9.40" height="47.12" fill="#4a77b5"/>
<line x1="245.90" y1="407.28" x2="245.90" y2="393.41" stroke="#111" stroke-width="1.3"/>
<line x1="243.30" y1="393.41" x2="248.50" y2="393.41" stroke="#111" stroke-width="1.3"/>
<line x1="245.90" y1="454.40" x2="245.90" y2="458.40" stroke="#111" stroke-width="1.2"/>
<text x="172.3" y="384.0" font-size="7.8" text-anchor="start" font-weight="normal" fill="#1a1a1a" textLength="32.6" lengthAdjust="spacingAndGlyphs">P=0.0004</text>
<text x="144.8" y="414.5" font-size="9.0" text-anchor="middle" font-weight="normal" fill="#1a1a1a" transform="rotate(-90 144.8 414.5)" textLength="50" lengthAdjust="spacingAndGlyphs">Intensity (a.u.)</text>
<text x="309.8" y="368.7" font-size="9.6" text-anchor="start" font-weight="normal" fill="#1a1a1a" textLength="61.9" lengthAdjust="spacingAndGlyphs">Akt substrates</text>
<line x1="297.70" y1="378.00" x2="297.70" y2="455.15" stroke="#111" stroke-width="1.5"/>
<line x1="292.60" y1="454.40" x2="383.90" y2="454.40" stroke="#111" stroke-width="1.5"/>
<line x1="293.10" y1="454.40" x2="297.70" y2="454.40" stroke="#111" stroke-width="1.2"/>
<text x="0" y="0" font-size="8.2" text-anchor="end" font-weight="normal" fill="#1a1a1a" transform="translate(288.29999999999995 457.15) scale(0.93 1)">0</text>
<line x1="293.10" y1="424.20" x2="297.70" y2="424.20" stroke="#111" stroke-width="1.2"/>
<text x="0" y="0" font-size="8.2" text-anchor="end" font-weight="normal" fill="#1a1a1a" transform="translate(288.29999999999995 426.95) scale(0.93 1)">10</text>
<line x1="293.10" y1="394.00" x2="297.70" y2="394.00" stroke="#111" stroke-width="1.2"/>
<text x="0" y="0" font-size="8.2" text-anchor="end" font-weight="normal" fill="#1a1a1a" transform="translate(288.29999999999995 396.75) scale(0.93 1)">20</text>
<rect x="303.10" y="443.53" width="10.20" height="10.87" fill="#fbefa2"/>
<line x1="308.20" y1="443.53" x2="308.20" y2="438.70" stroke="#111" stroke-width="1.3"/>
<line x1="305.60" y1="438.70" x2="310.80" y2="438.70" stroke="#111" stroke-width="1.3"/>
<line x1="308.20" y1="454.40" x2="308.20" y2="458.40" stroke="#111" stroke-width="1.2"/>
<rect x="319.20" y="438.70" width="10.30" height="15.70" fill="#d4e2b3"/>
<line x1="324.35" y1="438.70" x2="324.35" y2="431.45" stroke="#111" stroke-width="1.3"/>
<line x1="321.75" y1="431.45" x2="326.95" y2="431.45" stroke="#111" stroke-width="1.3"/>
<line x1="324.35" y1="454.40" x2="324.35" y2="458.40" stroke="#111" stroke-width="1.2"/>
<rect x="335.40" y="431.15" width="10.20" height="23.25" fill="#a0cbb9"/>
<line x1="340.50" y1="431.15" x2="340.50" y2="421.78" stroke="#111" stroke-width="1.3"/>
<line x1="337.90" y1="421.78" x2="343.10" y2="421.78" stroke="#111" stroke-width="1.3"/>
<line x1="340.50" y1="454.40" x2="340.50" y2="458.40" stroke="#111" stroke-width="1.2"/>
<rect x="352.10" y="413.63" width="9.70" height="40.77" fill="#6fb0c4"/>
<line x1="356.95" y1="413.63" x2="356.95" y2="396.42" stroke="#111" stroke-width="1.3"/>
<line x1="354.35" y1="396.42" x2="359.55" y2="396.42" stroke="#111" stroke-width="1.3"/>
<line x1="356.95" y1="454.40" x2="356.95" y2="458.40" stroke="#111" stroke-width="1.2"/>
<rect x="368.20" y="404.87" width="9.70" height="49.53" fill="#4a77b5"/>
<line x1="373.05" y1="404.87" x2="373.05" y2="389.47" stroke="#111" stroke-width="1.3"/>
<line x1="370.45" y1="389.47" x2="375.65" y2="389.47" stroke="#111" stroke-width="1.3"/>
<line x1="373.05" y1="454.40" x2="373.05" y2="458.40" stroke="#111" stroke-width="1.2"/>
<text x="300.9" y="384.0" font-size="7.8" text-anchor="start" font-weight="normal" fill="#1a1a1a" textLength="24.3" lengthAdjust="spacingAndGlyphs">P=0.02</text>
<text x="273.2" y="415.8" font-size="9.0" text-anchor="middle" font-weight="normal" fill="#1a1a1a" transform="rotate(-90 273.2 415.8)" textLength="50" lengthAdjust="spacingAndGlyphs">Intensity (a.u.)</text>
<text x="426.0" y="368.7" font-size="9.6" text-anchor="start" font-weight="normal" fill="#1a1a1a" textLength="73.7" lengthAdjust="spacingAndGlyphs">MAPK substrates</text>
<line x1="420.00" y1="374.50" x2="420.00" y2="455.15" stroke="#111" stroke-width="1.5"/>
<line x1="415.00" y1="454.40" x2="507.00" y2="454.40" stroke="#111" stroke-width="1.5"/>
<line x1="415.40" y1="454.40" x2="420.00" y2="454.40" stroke="#111" stroke-width="1.2"/>
<text x="0" y="0" font-size="8.2" text-anchor="end" font-weight="normal" fill="#1a1a1a" transform="translate(410.59999999999997 457.15) scale(0.93 1)">0</text>
<line x1="415.40" y1="416.50" x2="420.00" y2="416.50" stroke="#111" stroke-width="1.2"/>
<text x="0" y="0" font-size="8.2" text-anchor="end" font-weight="normal" fill="#1a1a1a" transform="translate(410.59999999999997 419.25) scale(0.93 1)">4</text>
<line x1="415.40" y1="378.60" x2="420.00" y2="378.60" stroke="#111" stroke-width="1.2"/>
<text x="0" y="0" font-size="8.2" text-anchor="end" font-weight="normal" fill="#1a1a1a" transform="translate(410.59999999999997 381.34999999999997) scale(0.93 1)">8</text>
<rect x="425.20" y="433.08" width="10.40" height="21.32" fill="#fbefa2"/>
<line x1="430.40" y1="433.08" x2="430.40" y2="426.35" stroke="#111" stroke-width="1.3"/>
<line x1="427.80" y1="426.35" x2="433.00" y2="426.35" stroke="#111" stroke-width="1.3"/>
<line x1="430.40" y1="454.40" x2="430.40" y2="458.40" stroke="#111" stroke-width="1.2"/>
<rect x="441.60" y="418.02" width="10.40" height="36.38" fill="#d4e2b3"/>
<line x1="446.80" y1="418.02" x2="446.80" y2="399.92" stroke="#111" stroke-width="1.3"/>
<line x1="444.20" y1="399.92" x2="449.40" y2="399.92" stroke="#111" stroke-width="1.3"/>
<line x1="446.80" y1="454.40" x2="446.80" y2="458.40" stroke="#111" stroke-width="1.2"/>
<rect x="458.20" y="411.00" width="9.90" height="43.40" fill="#a0cbb9"/>
<line x1="463.15" y1="411.00" x2="463.15" y2="395.18" stroke="#111" stroke-width="1.3"/>
<line x1="460.55" y1="395.18" x2="465.75" y2="395.18" stroke="#111" stroke-width="1.3"/>
<line x1="463.15" y1="454.40" x2="463.15" y2="458.40" stroke="#111" stroke-width="1.2"/>
<rect x="474.00" y="404.28" width="10.20" height="50.12" fill="#6fb0c4"/>
<line x1="479.10" y1="404.28" x2="479.10" y2="387.70" stroke="#111" stroke-width="1.3"/>
<line x1="476.50" y1="387.70" x2="481.70" y2="387.70" stroke="#111" stroke-width="1.3"/>
<line x1="479.10" y1="454.40" x2="479.10" y2="458.40" stroke="#111" stroke-width="1.2"/>
<rect x="490.10" y="397.27" width="10.40" height="57.13" fill="#4a77b5"/>
<line x1="495.30" y1="397.27" x2="495.30" y2="379.07" stroke="#111" stroke-width="1.3"/>
<line x1="492.70" y1="379.07" x2="497.90" y2="379.07" stroke="#111" stroke-width="1.3"/>
<line x1="495.30" y1="454.40" x2="495.30" y2="458.40" stroke="#111" stroke-width="1.2"/>
<text x="422.6" y="384.0" font-size="7.8" text-anchor="start" font-weight="normal" fill="#1a1a1a" textLength="19" lengthAdjust="spacingAndGlyphs">P=0.1</text>
<text x="399.3" y="414.7" font-size="9.0" text-anchor="middle" font-weight="normal" fill="#1a1a1a" transform="rotate(-90 399.3 414.7)" textLength="51.5" lengthAdjust="spacingAndGlyphs">Intensity (a.u.)</text>
<rect x="41.70" y="471.50" width="88.30" height="96.70" fill="#c3c3c3"/>
<g filter="url(#bl)"><rect x="45.40" y="480.78" width="13.00" height="2.24" rx="1.12" fill="#000" fill-opacity="0.12"/><rect x="62.40" y="480.36" width="13.00" height="3.08" rx="1.54" fill="#000" fill-opacity="0.55"/><rect x="79.50" y="480.50" width="13.00" height="2.80" rx="1.40" fill="#000" fill-opacity="0.45"/><rect x="96.20" y="480.22" width="13.00" height="3.36" rx="1.68" fill="#000" fill-opacity="0.62"/><rect x="113.00" y="480.36" width="13.00" height="3.08" rx="1.54" fill="#000" fill-opacity="0.5"/><rect x="62.40" y="478.48" width="13.00" height="2.24" rx="1.12" fill="#000" fill-opacity="0.3"/><rect x="96.20" y="478.48" width="13.00" height="2.24" rx="1.12" fill="#000" fill-opacity="0.3"/><rect x="113.00" y="478.48" width="13.00" height="2.24" rx="1.12" fill="#000" fill-opacity="0.3"/><rect x="62.40" y="485.80" width="13.00" height="2.80" rx="1.40" fill="#000" fill-opacity="0.2"/><rect x="79.50" y="485.80" width="13.00" height="2.80" rx="1.40" fill="#000" fill-opacity="0.2"/><rect x="96.20" y="485.80" width="13.00" height="2.80" rx="1.40" fill="#000" fill-opacity="0.2"/><rect x="113.00" y="485.80" width="13.00" height="2.80" rx="1.40" fill="#000" fill-opacity="0.2"/><rect x="96.20" y="492.16" width="13.00" height="3.08" rx="1.54" fill="#000" fill-opacity="0.15"/><rect x="45.40" y="504.74" width="13.00" height="2.52" rx="1.26" fill="#000" fill-opacity="0.14"/><rect x="62.40" y="504.04" width="13.00" height="3.92" rx="1.96" fill="#000" fill-opacity="0.85"/><rect x="79.50" y="504.18" width="13.00" height="3.64" rx="1.82" fill="#000" fill-opacity="0.72"/><rect x="96.20" y="502.78" width="13.00" height="6.44" rx="3.00" fill="#000" fill-opacity="0.95"/><rect x="113.00" y="503.90" width="13.00" height="4.20" rx="2.10" fill="#000" fill-opacity="0.78"/><rect x="45.40" y="514.64" width="13.00" height="3.92" rx="1.96" fill="#000" fill-opacity="0.9"/><rect x="62.40" y="513.94" width="13.00" height="5.32" rx="2.66" fill="#000" fill-opacity="0.92"/><rect x="79.50" y="514.64" width="13.00" height="3.92" rx="1.96" fill="#000" fill-opacity="0.72"/><rect x="96.20" y="512.82" width="13.00" height="7.56" rx="3.00" fill="#000" fill-opacity="0.97"/><rect x="113.00" y="513.94" width="13.00" height="5.32" rx="2.66" fill="#000" fill-opacity="0.85"/><rect x="45.40" y="520.66" width="13.00" height="3.08" rx="1.54" fill="#000" fill-opacity="0.2"/><rect x="62.40" y="520.66" width="13.00" height="3.08" rx="1.54" fill="#000" fill-opacity="0.2"/><rect x="79.50" y="520.66" width="13.00" height="3.08" rx="1.54" fill="#000" fill-opacity="0.2"/><rect x="113.00" y="520.66" width="13.00" height="3.08" rx="1.54" fill="#000" fill-opacity="0.2"/><rect x="96.20" y="520.52" width="13.00" height="3.36" rx="1.68" fill="#000" fill-opacity="0.38"/><rect x="62.40" y="552.62" width="13.00" height="4.76" rx="2.38" fill="#000" fill-opacity="0.52"/><rect x="79.50" y="552.90" width="13.00" height="4.20" rx="2.10" fill="#000" fill-opacity="0.3"/><rect x="96.20" y="552.48" width="13.00" height="5.04" rx="2.52" fill="#000" fill-opacity="0.58"/><rect x="113.00" y="552.76" width="13.00" height="4.48" rx="2.24" fill="#000" fill-opacity="0.38"/></g><g filter="url(#bls)"></g>
<rect x="42.60" y="472.40" width="86.50" height="94.90" fill="none" stroke="#000" stroke-width="1.8"/>
<line x1="130.00" y1="482.30" x2="133.80" y2="482.30" stroke="#111" stroke-width="1.3"/>
<line x1="130.00" y1="505.20" x2="133.80" y2="505.20" stroke="#111" stroke-width="1.3"/>
<line x1="130.00" y1="520.50" x2="133.80" y2="520.50" stroke="#111" stroke-width="1.3"/>
<text x="37.2" y="519.3" font-size="9.4" text-anchor="middle" font-weight="normal" fill="#1a1a1a" transform="rotate(-90 37.2 519.3)" textLength="51.4" lengthAdjust="spacingAndGlyphs">WB: pY(4G10)</text>
<rect x="37.70" y="534.00" width="1.50" height="11.00" fill="#111"/>
<line x1="51.40" y1="576.80" x2="53.60" y2="576.80" stroke="#333" stroke-width="0.9"/>
<line x1="65.80" y1="576.80" x2="70.00" y2="576.80" stroke="#222" stroke-width="0.95"/>
<line x1="67.90" y1="574.70" x2="67.90" y2="578.90" stroke="#222" stroke-width="0.95"/>
<line x1="81.40" y1="576.80" x2="85.60" y2="576.80" stroke="#222" stroke-width="0.95"/>
<line x1="83.50" y1="574.70" x2="83.50" y2="578.90" stroke="#222" stroke-width="0.95"/>
<line x1="99.70" y1="576.80" x2="103.90" y2="576.80" stroke="#222" stroke-width="0.95"/>
<line x1="101.80" y1="574.70" x2="101.80" y2="578.90" stroke="#222" stroke-width="0.95"/>
<line x1="117.20" y1="576.80" x2="121.40" y2="576.80" stroke="#222" stroke-width="0.95"/>
<line x1="119.30" y1="574.70" x2="119.30" y2="578.90" stroke="#222" stroke-width="0.95"/>
<text x="56.1" y="585.8" font-size="8.2" text-anchor="end" font-weight="normal" fill="#1a1a1a" transform="rotate(-45 56.1 585.8)">veh</text>
<text x="71.5" y="585.8" font-size="8.2" text-anchor="end" font-weight="normal" fill="#1a1a1a" transform="rotate(-45 71.5 585.8)">+ap,in</text>
<text x="87.1" y="585.8" font-size="8.2" text-anchor="end" font-weight="normal" fill="#1a1a1a" transform="rotate(-45 87.1 585.8)">+apy</text>
<text x="105.4" y="585.8" font-size="8.2" text-anchor="end" font-weight="normal" fill="#1a1a1a" transform="rotate(-45 105.4 585.8)">+indo</text>
<text x="122.9" y="585.8" font-size="8.2" text-anchor="end" font-weight="normal" fill="#1a1a1a" transform="rotate(-45 122.9 585.8)">veh</text>
<text x="25.500000000000004" y="579.2" font-size="7.4" text-anchor="start" font-weight="normal" fill="#1a1a1a" textLength="17.4" lengthAdjust="spacingAndGlyphs">CRP:</text>
<rect x="169.40" y="471.80" width="87.40" height="96.20" fill="#cacaca"/>
<g filter="url(#bl)"><rect x="189.40" y="483.48" width="13.00" height="2.24" rx="1.12" fill="#000" fill-opacity="0.3"/><rect x="206.20" y="476.98" width="13.00" height="3.64" rx="1.82" fill="#000" fill-opacity="0.7"/><rect x="223.00" y="476.56" width="13.00" height="4.48" rx="2.24" fill="#000" fill-opacity="0.85"/><rect x="239.10" y="476.28" width="13.00" height="5.04" rx="2.52" fill="#000" fill-opacity="0.92"/><rect x="206.20" y="484.30" width="13.00" height="4.20" rx="2.10" fill="#000" fill-opacity="0.75"/><rect x="223.00" y="483.88" width="13.00" height="5.04" rx="2.52" fill="#000" fill-opacity="0.9"/><rect x="239.10" y="483.88" width="13.00" height="5.04" rx="2.52" fill="#000" fill-opacity="0.92"/><rect x="223.00" y="481.20" width="13.00" height="2.80" rx="1.40" fill="#000" fill-opacity="0.35"/><rect x="239.10" y="481.20" width="13.00" height="2.80" rx="1.40" fill="#000" fill-opacity="0.35"/><rect x="223.00" y="495.86" width="13.00" height="3.08" rx="1.54" fill="#000" fill-opacity="0.2"/><rect x="239.10" y="495.86" width="13.00" height="3.08" rx="1.54" fill="#000" fill-opacity="0.2"/><rect x="189.40" y="500.32" width="13.00" height="3.36" rx="1.68" fill="#000" fill-opacity="0.85"/><rect x="206.20" y="500.18" width="13.00" height="3.64" rx="1.82" fill="#000" fill-opacity="0.78"/><rect x="223.00" y="499.48" width="13.00" height="5.04" rx="2.52" fill="#000" fill-opacity="0.9"/><rect x="239.10" y="499.62" width="13.00" height="4.76" rx="2.38" fill="#000" fill-opacity="0.88"/><rect x="189.40" y="509.60" width="13.00" height="4.20" rx="2.10" fill="#000" fill-opacity="0.78"/><rect x="206.20" y="509.18" width="13.00" height="5.04" rx="2.52" fill="#000" fill-opacity="0.88"/><rect x="223.00" y="508.62" width="13.00" height="6.16" rx="3.00" fill="#000" fill-opacity="0.93"/><rect x="239.10" y="509.04" width="13.00" height="5.32" rx="2.66" fill="#000" fill-opacity="0.9"/><rect x="206.20" y="516.86" width="13.00" height="3.08" rx="1.54" fill="#000" fill-opacity="0.2"/><rect x="223.00" y="516.86" width="13.00" height="3.08" rx="1.54" fill="#000" fill-opacity="0.2"/><rect x="239.10" y="516.86" width="13.00" height="3.08" rx="1.54" fill="#000" fill-opacity="0.2"/><rect x="223.00" y="522.78" width="13.00" height="2.24" rx="1.12" fill="#000" fill-opacity="0.22"/><rect x="239.10" y="522.78" width="13.00" height="2.24" rx="1.12" fill="#000" fill-opacity="0.22"/><rect x="206.20" y="528.02" width="13.00" height="1.96" rx="0.98" fill="#000" fill-opacity="0.4"/><rect x="223.00" y="528.02" width="13.00" height="1.96" rx="0.98" fill="#000" fill-opacity="0.45"/><rect x="239.10" y="527.88" width="13.00" height="2.24" rx="1.12" fill="#000" fill-opacity="0.6"/><rect x="189.40" y="555.34" width="13.00" height="3.92" rx="1.96" fill="#000" fill-opacity="0.78"/><rect x="206.20" y="554.92" width="13.00" height="4.76" rx="2.38" fill="#000" fill-opacity="0.88"/><rect x="223.00" y="554.06" width="13.00" height="5.88" rx="2.94" fill="#000" fill-opacity="0.95"/><rect x="239.10" y="554.64" width="13.00" height="5.32" rx="2.66" fill="#000" fill-opacity="0.92"/></g><g filter="url(#bls)"><rect x="172.40" y="511.61" width="13.00" height="1.98" rx="0.99" fill="#000" fill-opacity="0.966"/></g>
<rect x="170.30" y="472.70" width="85.60" height="94.40" fill="none" stroke="#000" stroke-width="1.8"/>
<line x1="256.80" y1="477.00" x2="260.60" y2="477.00" stroke="#111" stroke-width="1.3"/>
<line x1="256.80" y1="489.60" x2="260.60" y2="489.60" stroke="#111" stroke-width="1.3"/>
<line x1="256.80" y1="502.00" x2="260.60" y2="502.00" stroke="#111" stroke-width="1.3"/>
<line x1="256.80" y1="519.50" x2="260.60" y2="519.50" stroke="#111" stroke-width="1.3"/>
<line x1="256.80" y1="556.90" x2="260.60" y2="556.90" stroke="#111" stroke-width="1.3"/>
<text x="164.4" y="519.5" font-size="10.2" text-anchor="middle" font-weight="normal" fill="#1a1a1a" transform="rotate(-90 164.4 519.5)" textLength="57.0" lengthAdjust="spacingAndGlyphs">WB: (R/K)(R/K)pS</text>
<rect x="165.20" y="534.00" width="1.50" height="14.00" fill="#111"/>
<line x1="179.50" y1="576.80" x2="181.70" y2="576.80" stroke="#333" stroke-width="0.9"/>
<line x1="193.30" y1="576.80" x2="197.50" y2="576.80" stroke="#222" stroke-width="0.95"/>
<line x1="195.40" y1="574.70" x2="195.40" y2="578.90" stroke="#222" stroke-width="0.95"/>
<line x1="208.70" y1="576.80" x2="212.90" y2="576.80" stroke="#222" stroke-width="0.95"/>
<line x1="210.80" y1="574.70" x2="210.80" y2="578.90" stroke="#222" stroke-width="0.95"/>
<line x1="227.00" y1="576.80" x2="231.20" y2="576.80" stroke="#222" stroke-width="0.95"/>
<line x1="229.10" y1="574.70" x2="229.10" y2="578.90" stroke="#222" stroke-width="0.95"/>
<line x1="244.50" y1="576.80" x2="248.70" y2="576.80" stroke="#222" stroke-width="0.95"/>
<line x1="246.60" y1="574.70" x2="246.60" y2="578.90" stroke="#222" stroke-width="0.95"/>
<text x="184.2" y="585.8" font-size="8.2" text-anchor="end" font-weight="normal" fill="#1a1a1a" transform="rotate(-45 184.2 585.8)">veh</text>
<text x="199.0" y="585.8" font-size="8.2" text-anchor="end" font-weight="normal" fill="#1a1a1a" transform="rotate(-45 199.0 585.8)">+ap,in</text>
<text x="214.4" y="585.8" font-size="8.2" text-anchor="end" font-weight="normal" fill="#1a1a1a" transform="rotate(-45 214.4 585.8)">+apy</text>
<text x="232.7" y="585.8" font-size="8.2" text-anchor="end" font-weight="normal" fill="#1a1a1a" transform="rotate(-45 232.7 585.8)">+indo</text>
<text x="250.2" y="585.8" font-size="8.2" text-anchor="end" font-weight="normal" fill="#1a1a1a" transform="rotate(-45 250.2 585.8)">veh</text>
<rect x="295.80" y="471.70" width="88.10" height="96.20" fill="#cecece"/>
<g filter="url(#bl)"><rect x="299.20" y="475.80" width="15.00" height="8.40" rx="3.00" fill="#000" fill-opacity="0.97"/><rect x="315.60" y="476.28" width="15.00" height="7.84" rx="3.00" fill="#000" fill-opacity="0.95"/><rect x="332.10" y="476.28" width="15.00" height="7.84" rx="3.00" fill="#000" fill-opacity="0.95"/><rect x="348.50" y="476.62" width="15.00" height="7.56" rx="3.00" fill="#000" fill-opacity="0.93"/><rect x="365.00" y="476.90" width="15.00" height="7.00" rx="3.00" fill="#000" fill-opacity="0.92"/><rect x="315.60" y="483.68" width="15.00" height="3.64" rx="1.82" fill="#000" fill-opacity="0.25"/><rect x="332.10" y="483.68" width="15.00" height="3.64" rx="1.82" fill="#000" fill-opacity="0.25"/><rect x="348.50" y="483.68" width="15.00" height="3.64" rx="1.82" fill="#000" fill-opacity="0.25"/><rect x="365.00" y="483.68" width="15.00" height="3.64" rx="1.82" fill="#000" fill-opacity="0.25"/><rect x="315.60" y="487.62" width="15.00" height="3.36" rx="1.68" fill="#000" fill-opacity="0.28"/><rect x="332.10" y="487.62" width="15.00" height="3.36" rx="1.68" fill="#000" fill-opacity="0.28"/><rect x="348.50" y="487.62" width="15.00" height="3.36" rx="1.68" fill="#000" fill-opacity="0.28"/><rect x="365.00" y="487.62" width="15.00" height="3.36" rx="1.68" fill="#000" fill-opacity="0.28"/><rect x="315.60" y="492.88" width="15.00" height="3.64" rx="1.82" fill="#000" fill-opacity="0.78"/><rect x="332.10" y="492.60" width="15.00" height="4.20" rx="2.10" fill="#000" fill-opacity="0.85"/><rect x="348.50" y="492.32" width="15.00" height="4.76" rx="2.38" fill="#000" fill-opacity="0.92"/><rect x="365.00" y="492.18" width="15.00" height="5.04" rx="2.52" fill="#000" fill-opacity="0.92"/><rect x="332.10" y="502.82" width="15.00" height="1.96" rx="0.98" fill="#000" fill-opacity="0.2"/><rect x="348.50" y="502.54" width="15.00" height="2.52" rx="1.26" fill="#000" fill-opacity="0.75"/><rect x="365.00" y="502.40" width="15.00" height="2.80" rx="1.40" fill="#000" fill-opacity="0.85"/><rect x="315.60" y="527.02" width="15.00" height="1.96" rx="0.98" fill="#000" fill-opacity="0.3"/><rect x="332.10" y="526.88" width="15.00" height="2.24" rx="1.12" fill="#000" fill-opacity="0.5"/><rect x="348.50" y="526.88" width="15.00" height="2.24" rx="1.12" fill="#000" fill-opacity="0.55"/><rect x="365.00" y="527.02" width="15.00" height="1.96" rx="0.98" fill="#000" fill-opacity="0.15"/><rect x="365.00" y="533.08" width="15.00" height="3.64" rx="1.82" fill="#000" fill-opacity="0.3"/><rect x="365.00" y="538.14" width="15.00" height="2.52" rx="1.26" fill="#000" fill-opacity="0.55"/><rect x="348.50" y="537.88" width="15.00" height="2.24" rx="1.12" fill="#000" fill-opacity="0.15"/></g><g filter="url(#bls)"></g>
<rect x="296.70" y="472.60" width="86.30" height="94.40" fill="none" stroke="#000" stroke-width="1.8"/>
<line x1="383.90" y1="493.60" x2="387.70" y2="493.60" stroke="#111" stroke-width="1.3"/>
<line x1="383.90" y1="504.70" x2="387.70" y2="504.70" stroke="#111" stroke-width="1.3"/>
<line x1="383.90" y1="518.90" x2="387.70" y2="518.90" stroke="#111" stroke-width="1.3"/>
<line x1="383.90" y1="559.00" x2="387.70" y2="559.00" stroke="#111" stroke-width="1.3"/>
<text x="291.2" y="519.7" font-size="10.0" text-anchor="middle" font-weight="normal" fill="#1a1a1a" transform="rotate(-90 291.2 519.7)" textLength="43.7" lengthAdjust="spacingAndGlyphs">WB: RXXpS/T</text>
<rect x="292.30" y="531.20" width="1.50" height="9.80" fill="#111"/>
<line x1="306.00" y1="576.80" x2="308.20" y2="576.80" stroke="#333" stroke-width="0.9"/>
<line x1="321.70" y1="576.80" x2="325.90" y2="576.80" stroke="#222" stroke-width="0.95"/>
<line x1="323.80" y1="574.70" x2="323.80" y2="578.90" stroke="#222" stroke-width="0.95"/>
<line x1="336.80" y1="576.80" x2="341.00" y2="576.80" stroke="#222" stroke-width="0.95"/>
<line x1="338.90" y1="574.70" x2="338.90" y2="578.90" stroke="#222" stroke-width="0.95"/>
<line x1="355.40" y1="576.80" x2="359.60" y2="576.80" stroke="#222" stroke-width="0.95"/>
<line x1="357.50" y1="574.70" x2="357.50" y2="578.90" stroke="#222" stroke-width="0.95"/>
<line x1="372.30" y1="576.80" x2="376.50" y2="576.80" stroke="#222" stroke-width="0.95"/>
<line x1="374.40" y1="574.70" x2="374.40" y2="578.90" stroke="#222" stroke-width="0.95"/>
<text x="310.7" y="585.8" font-size="8.2" text-anchor="end" font-weight="normal" fill="#1a1a1a" transform="rotate(-45 310.7 585.8)">veh</text>
<text x="327.4" y="585.8" font-size="8.2" text-anchor="end" font-weight="normal" fill="#1a1a1a" transform="rotate(-45 327.4 585.8)">+ap,in</text>
<text x="342.5" y="585.8" font-size="8.2" text-anchor="end" font-weight="normal" fill="#1a1a1a" transform="rotate(-45 342.5 585.8)">+apy</text>
<text x="361.1" y="585.8" font-size="8.2" text-anchor="end" font-weight="normal" fill="#1a1a1a" transform="rotate(-45 361.1 585.8)">+indo</text>
<text x="378.0" y="585.8" font-size="8.2" text-anchor="end" font-weight="normal" fill="#1a1a1a" transform="rotate(-45 378.0 585.8)">veh</text>
<rect x="418.40" y="471.40" width="88.20" height="96.20" fill="#c3c3c3"/>
<g filter="url(#bl)"><rect x="422.20" y="487.32" width="14.00" height="1.96" rx="0.98" fill="#000" fill-opacity="0.12"/><rect x="438.80" y="487.32" width="14.00" height="1.96" rx="0.98" fill="#000" fill-opacity="0.18"/><rect x="471.70" y="492.72" width="14.00" height="1.96" rx="0.98" fill="#000" fill-opacity="0.15"/><rect x="488.10" y="492.72" width="14.00" height="1.96" rx="0.98" fill="#000" fill-opacity="0.15"/><rect x="422.20" y="503.32" width="14.00" height="3.36" rx="1.68" fill="#000" fill-opacity="0.75"/><rect x="438.80" y="501.22" width="14.00" height="7.56" rx="3.00" fill="#000" fill-opacity="0.95"/><rect x="455.20" y="501.50" width="14.00" height="7.00" rx="3.00" fill="#000" fill-opacity="0.94"/><rect x="471.70" y="501.22" width="14.00" height="7.56" rx="3.00" fill="#000" fill-opacity="0.95"/><rect x="488.10" y="501.22" width="14.00" height="7.56" rx="3.00" fill="#000" fill-opacity="0.96"/><rect x="438.80" y="527.38" width="14.00" height="2.24" rx="1.12" fill="#000" fill-opacity="0.2"/><rect x="438.80" y="540.12" width="14.00" height="3.36" rx="1.68" fill="#000" fill-opacity="0.6"/><rect x="455.20" y="540.26" width="14.00" height="3.08" rx="1.54" fill="#000" fill-opacity="0.5"/><rect x="471.70" y="540.40" width="14.00" height="2.80" rx="1.40" fill="#000" fill-opacity="0.35"/><rect x="488.10" y="540.12" width="14.00" height="3.36" rx="1.68" fill="#000" fill-opacity="0.58"/></g><g filter="url(#bls)"><rect x="422.20" y="477.94" width="14.00" height="1.32" rx="0.66" fill="#000" fill-opacity="0.525"/><rect x="438.80" y="477.94" width="14.00" height="1.32" rx="0.66" fill="#000" fill-opacity="0.525"/><rect x="455.20" y="477.94" width="14.00" height="1.32" rx="0.66" fill="#000" fill-opacity="0.525"/><rect x="471.70" y="477.94" width="14.00" height="1.32" rx="0.66" fill="#000" fill-opacity="0.525"/><rect x="488.10" y="477.94" width="14.00" height="1.32" rx="0.66" fill="#000" fill-opacity="0.525"/><rect x="422.20" y="481.69" width="14.00" height="1.43" rx="0.72" fill="#000" fill-opacity="0.473"/><rect x="438.80" y="481.63" width="14.00" height="1.54" rx="0.77" fill="#000" fill-opacity="0.63"/><rect x="455.20" y="481.63" width="14.00" height="1.54" rx="0.77" fill="#000" fill-opacity="0.63"/><rect x="471.70" y="481.52" width="14.00" height="1.76" rx="0.88" fill="#000" fill-opacity="0.788"/><rect x="488.10" y="481.52" width="14.00" height="1.76" rx="0.88" fill="#000" fill-opacity="0.861"/><rect x="455.20" y="487.53" width="14.00" height="1.54" rx="0.77" fill="#000" fill-opacity="0.367"/><rect x="471.70" y="487.42" width="14.00" height="1.76" rx="0.88" fill="#000" fill-opacity="0.84"/><rect x="488.10" y="487.42" width="14.00" height="1.76" rx="0.88" fill="#000" fill-opacity="0.861"/></g>
<rect x="419.30" y="472.30" width="86.40" height="94.40" fill="none" stroke="#000" stroke-width="1.8"/>
<line x1="506.60" y1="481.00" x2="510.40" y2="481.00" stroke="#111" stroke-width="1.3"/>
<line x1="506.60" y1="504.30" x2="510.40" y2="504.30" stroke="#111" stroke-width="1.3"/>
<line x1="506.60" y1="514.30" x2="510.40" y2="514.30" stroke="#111" stroke-width="1.3"/>
<text x="413.5" y="519.7" font-size="9.8" text-anchor="middle" font-weight="normal" fill="#1a1a1a" transform="rotate(-90 413.5 519.7)" textLength="34.7" lengthAdjust="spacingAndGlyphs">WB: pS/TP</text>
<rect x="414.60" y="526.30" width="1.50" height="10.30" fill="#111"/>
<line x1="428.90" y1="576.80" x2="431.10" y2="576.80" stroke="#333" stroke-width="0.9"/>
<line x1="443.80" y1="576.80" x2="448.00" y2="576.80" stroke="#222" stroke-width="0.95"/>
<line x1="445.90" y1="574.70" x2="445.90" y2="578.90" stroke="#222" stroke-width="0.95"/>
<line x1="459.70" y1="576.80" x2="463.90" y2="576.80" stroke="#222" stroke-width="0.95"/>
<line x1="461.80" y1="574.70" x2="461.80" y2="578.90" stroke="#222" stroke-width="0.95"/>
<line x1="477.40" y1="576.80" x2="481.60" y2="576.80" stroke="#222" stroke-width="0.95"/>
<line x1="479.50" y1="574.70" x2="479.50" y2="578.90" stroke="#222" stroke-width="0.95"/>
<line x1="494.60" y1="576.80" x2="498.80" y2="576.80" stroke="#222" stroke-width="0.95"/>
<line x1="496.70" y1="574.70" x2="496.70" y2="578.90" stroke="#222" stroke-width="0.95"/>
<text x="433.6" y="585.8" font-size="8.2" text-anchor="end" font-weight="normal" fill="#1a1a1a" transform="rotate(-45 433.6 585.8)">veh</text>
<text x="449.5" y="585.8" font-size="8.2" text-anchor="end" font-weight="normal" fill="#1a1a1a" transform="rotate(-45 449.5 585.8)">+ap,in</text>
<text x="465.4" y="585.8" font-size="8.2" text-anchor="end" font-weight="normal" fill="#1a1a1a" transform="rotate(-45 465.4 585.8)">+apy</text>
<text x="483.1" y="585.8" font-size="8.2" text-anchor="end" font-weight="normal" fill="#1a1a1a" transform="rotate(-45 483.1 585.8)">+indo</text>
<text x="500.3" y="585.8" font-size="8.2" text-anchor="end" font-weight="normal" fill="#1a1a1a" transform="rotate(-45 500.3 585.8)">veh</text>
<rect x="0.85" y="0.85" width="518.3" height="610.3" fill="none" stroke="#000" stroke-width="1.7"/>
</svg>
</body></html>
